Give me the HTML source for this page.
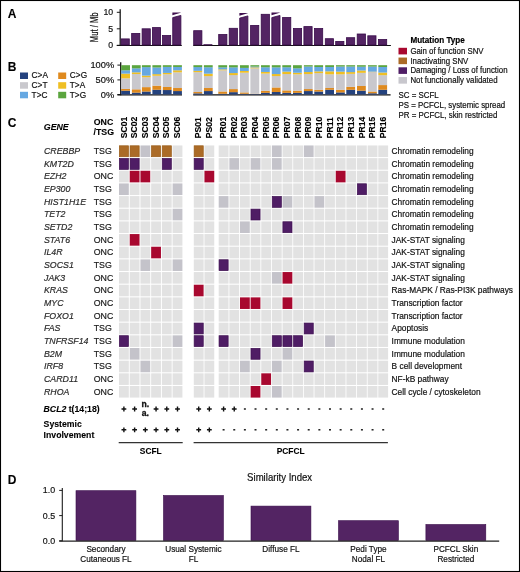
<!DOCTYPE html>
<html><head><meta charset="utf-8"><title>Figure</title>
<style>
html,body{margin:0;padding:0;background:#fff;}
body{width:520px;height:572px;overflow:hidden;}
svg{display:block;font-family:"Liberation Sans",sans-serif;will-change:transform;}
</style></head>
<body>
<svg width="520" height="572" viewBox="0 0 520 572">
<rect x="0" y="0" width="520" height="572" fill="#fff"/>
<text transform="translate(7.8,17.9) scale(1,1.05)" font-size="12" font-weight="bold" font-style="normal" text-anchor="start" fill="#000"  stroke="#000" stroke-width="0.1">A</text>
<text transform="translate(7.8,71.0) scale(1,1.05)" font-size="12" font-weight="bold" font-style="normal" text-anchor="start" fill="#000"  stroke="#000" stroke-width="0.1">B</text>
<text transform="translate(7.8,127.0) scale(1,1.05)" font-size="12" font-weight="bold" font-style="normal" text-anchor="start" fill="#000"  stroke="#000" stroke-width="0.1">C</text>
<text transform="translate(7.8,483.5) scale(1,1.05)" font-size="12" font-weight="bold" font-style="normal" text-anchor="start" fill="#000"  stroke="#000" stroke-width="0.1">D</text>
<line x1="120.2" y1="9.3" x2="120.2" y2="46.0" stroke="#1a1a1a" stroke-width="1.3"/>
<line x1="116.8" y1="12.3" x2="120.2" y2="12.3" stroke="#1a1a1a" stroke-width="1.0"/>
<text transform="translate(113.2,15.3) scale(1.04,1.05)" font-size="8.4" font-weight="normal" text-anchor="end" fill="#111" stroke="#111" stroke-width="0.18">10</text>
<line x1="116.8" y1="28.8" x2="120.2" y2="28.8" stroke="#1a1a1a" stroke-width="1.0"/>
<text transform="translate(113.2,31.8) scale(1.04,1.05)" font-size="8.4" font-weight="normal" text-anchor="end" fill="#111" stroke="#111" stroke-width="0.18">5</text>
<line x1="116.8" y1="45.3" x2="120.2" y2="45.3" stroke="#1a1a1a" stroke-width="1.0"/>
<text transform="translate(113.2,48.3) scale(1.04,1.05)" font-size="8.4" font-weight="normal" text-anchor="end" fill="#111" stroke="#111" stroke-width="0.18">0</text>
<text transform="translate(97.6,27.3) rotate(-90) scale(0.76,1)" font-size="10.1" text-anchor="middle" fill="#111" stroke="#111" stroke-width="0.25">Mut / Mb</text>
<line x1="116.8" y1="45.5" x2="181.8" y2="45.5" stroke="#111" stroke-width="1.2"/>
<line x1="193.2" y1="45.5" x2="390.9" y2="45.5" stroke="#111" stroke-width="1.2"/>
<rect x="121.10" y="38.90" width="8.20" height="6.10" fill="#532463" stroke="#380a49" stroke-width="0.8"/>
<rect x="131.65" y="33.40" width="8.20" height="11.60" fill="#532463" stroke="#380a49" stroke-width="0.8"/>
<rect x="142.10" y="28.80" width="8.20" height="16.20" fill="#532463" stroke="#380a49" stroke-width="0.8"/>
<rect x="152.40" y="27.60" width="8.20" height="17.40" fill="#532463" stroke="#380a49" stroke-width="0.8"/>
<rect x="162.50" y="35.50" width="8.20" height="9.50" fill="#532463" stroke="#380a49" stroke-width="0.8"/>
<path d="M172.70,45 L172.70,17.60 L180.90,15.40 L180.90,45 Z" fill="#532463" stroke="#380a49" stroke-width="0.8"/>
<path d="M172.40,12.40 L180.70,12.40 L180.70,12.70 L172.40,15.20 Z" fill="#40114f"/>
<rect x="193.70" y="30.70" width="8.20" height="14.30" fill="#532463" stroke="#380a49" stroke-width="0.8"/>
<rect x="203.80" y="44.70" width="8.20" height="0.30" fill="#532463" stroke="#380a49" stroke-width="0.8"/>
<rect x="218.70" y="34.50" width="8.20" height="10.50" fill="#532463" stroke="#380a49" stroke-width="0.8"/>
<rect x="229.20" y="28.30" width="8.20" height="16.70" fill="#532463" stroke="#380a49" stroke-width="0.8"/>
<path d="M239.70,45 L239.70,18.10 L247.90,15.90 L247.90,45 Z" fill="#532463" stroke="#380a49" stroke-width="0.8"/>
<path d="M239.40,12.90 L247.70,12.90 L247.70,13.20 L239.40,15.70 Z" fill="#40114f"/>
<rect x="250.60" y="25.40" width="8.20" height="19.60" fill="#532463" stroke="#380a49" stroke-width="0.8"/>
<rect x="261.20" y="14.30" width="8.20" height="30.70" fill="#532463" stroke="#380a49" stroke-width="0.8"/>
<path d="M271.80,45 L271.80,17.60 L280.00,15.40 L280.00,45 Z" fill="#532463" stroke="#380a49" stroke-width="0.8"/>
<path d="M271.50,12.40 L279.80,12.40 L279.80,12.70 L271.50,15.20 Z" fill="#40114f"/>
<rect x="282.60" y="17.50" width="8.20" height="27.50" fill="#532463" stroke="#380a49" stroke-width="0.8"/>
<rect x="293.40" y="28.50" width="8.20" height="16.50" fill="#532463" stroke="#380a49" stroke-width="0.8"/>
<rect x="303.90" y="26.60" width="8.20" height="18.40" fill="#532463" stroke="#380a49" stroke-width="0.8"/>
<rect x="314.50" y="28.50" width="8.20" height="16.50" fill="#532463" stroke="#380a49" stroke-width="0.8"/>
<rect x="325.30" y="38.70" width="8.20" height="6.30" fill="#532463" stroke="#380a49" stroke-width="0.8"/>
<rect x="335.70" y="41.40" width="8.20" height="3.60" fill="#532463" stroke="#380a49" stroke-width="0.8"/>
<rect x="346.50" y="37.70" width="8.20" height="7.30" fill="#532463" stroke="#380a49" stroke-width="0.8"/>
<rect x="357.20" y="34.00" width="8.20" height="11.00" fill="#532463" stroke="#380a49" stroke-width="0.8"/>
<rect x="367.80" y="35.80" width="8.20" height="9.20" fill="#532463" stroke="#380a49" stroke-width="0.8"/>
<rect x="378.50" y="39.50" width="8.20" height="5.50" fill="#532463" stroke="#380a49" stroke-width="0.8"/>
<rect x="20.00" y="72.50" width="8.00" height="6.50" fill="#24427e" />
<text transform="translate(31.6,78.45) scale(1,1.05)" font-size="8.3" font-weight="normal" font-style="normal" text-anchor="start" fill="#111"  stroke="#111" stroke-width="0.18">C&gt;A</text>
<rect x="20.00" y="82.20" width="8.00" height="6.50" fill="#c9c8cd" />
<text transform="translate(31.6,88.15) scale(1,1.05)" font-size="8.3" font-weight="normal" font-style="normal" text-anchor="start" fill="#111"  stroke="#111" stroke-width="0.18">C&gt;T</text>
<rect x="20.00" y="91.80" width="8.00" height="6.50" fill="#66a8e2" />
<text transform="translate(31.6,97.75) scale(1,1.05)" font-size="8.3" font-weight="normal" font-style="normal" text-anchor="start" fill="#111"  stroke="#111" stroke-width="0.18">T&gt;C</text>
<rect x="58.20" y="72.50" width="8.00" height="6.50" fill="#df8a1e" />
<text transform="translate(69.8,78.45) scale(1,1.05)" font-size="8.3" font-weight="normal" font-style="normal" text-anchor="start" fill="#111"  stroke="#111" stroke-width="0.18">C&gt;G</text>
<rect x="58.20" y="82.20" width="8.00" height="6.50" fill="#efbf24" />
<text transform="translate(69.8,88.15) scale(1,1.05)" font-size="8.3" font-weight="normal" font-style="normal" text-anchor="start" fill="#111"  stroke="#111" stroke-width="0.18">T&gt;A</text>
<rect x="58.20" y="91.80" width="8.00" height="6.50" fill="#5ba53e" />
<text transform="translate(69.8,97.75) scale(1,1.05)" font-size="8.3" font-weight="normal" font-style="normal" text-anchor="start" fill="#111"  stroke="#111" stroke-width="0.18">T&gt;G</text>
<line x1="120.7" y1="62.3" x2="120.7" y2="95.2" stroke="#1a1a1a" stroke-width="1.3"/>
<line x1="117.4" y1="65.1" x2="120.7" y2="65.1" stroke="#1a1a1a" stroke-width="1.0"/>
<text transform="translate(114.2,68.0) scale(1.12,1.05)" font-size="8.3" font-weight="normal" text-anchor="end" fill="#111" stroke="#111" stroke-width="0.18">100%</text>
<line x1="117.4" y1="79.9" x2="120.7" y2="79.9" stroke="#1a1a1a" stroke-width="1.0"/>
<text transform="translate(114.2,82.80000000000001) scale(1.12,1.05)" font-size="8.3" font-weight="normal" text-anchor="end" fill="#111" stroke="#111" stroke-width="0.18">50%</text>
<line x1="117.4" y1="94.6" x2="120.7" y2="94.6" stroke="#1a1a1a" stroke-width="1.0"/>
<text transform="translate(114.2,97.5) scale(1.12,1.05)" font-size="8.3" font-weight="normal" text-anchor="end" fill="#111" stroke="#111" stroke-width="0.18">0%</text>
<line x1="117.4" y1="94.9" x2="182.0" y2="94.9" stroke="#111" stroke-width="1.3"/>
<line x1="193.2" y1="94.9" x2="390.6" y2="94.9" stroke="#111" stroke-width="1.3"/>
<rect x="121.20" y="90.69" width="8.80" height="3.76" fill="#24427e" />
<rect x="121.20" y="88.88" width="8.80" height="1.86" fill="#df8a1e" />
<rect x="121.20" y="78.28" width="8.80" height="10.65" fill="#c9c8cd" />
<rect x="121.20" y="73.58" width="8.80" height="4.75" fill="#efbf24" />
<rect x="121.20" y="70.28" width="8.80" height="3.35" fill="#66a8e2" />
<rect x="121.20" y="65.20" width="8.80" height="5.13" fill="#5ba53e" />
<rect x="131.90" y="92.59" width="8.80" height="1.86" fill="#24427e" />
<rect x="131.90" y="89.29" width="8.80" height="3.35" fill="#df8a1e" />
<rect x="131.90" y="73.99" width="8.80" height="15.35" fill="#c9c8cd" />
<rect x="131.90" y="72.30" width="8.80" height="1.74" fill="#efbf24" />
<rect x="131.90" y="68.30" width="8.80" height="4.05" fill="#66a8e2" />
<rect x="131.90" y="65.20" width="8.80" height="3.15" fill="#5ba53e" />
<rect x="141.90" y="91.48" width="8.80" height="2.97" fill="#24427e" />
<rect x="141.90" y="87.10" width="8.80" height="4.43" fill="#df8a1e" />
<rect x="141.90" y="77.17" width="8.80" height="9.98" fill="#c9c8cd" />
<rect x="141.90" y="75.57" width="8.80" height="1.66" fill="#efbf24" />
<rect x="141.90" y="67.10" width="8.80" height="8.52" fill="#66a8e2" />
<rect x="141.90" y="65.20" width="8.80" height="1.95" fill="#5ba53e" />
<rect x="152.40" y="89.73" width="8.80" height="4.72" fill="#24427e" />
<rect x="152.40" y="85.64" width="8.80" height="4.14" fill="#df8a1e" />
<rect x="152.40" y="75.71" width="8.80" height="9.98" fill="#c9c8cd" />
<rect x="152.40" y="74.11" width="8.80" height="1.66" fill="#efbf24" />
<rect x="152.40" y="67.39" width="8.80" height="6.77" fill="#66a8e2" />
<rect x="152.40" y="65.20" width="8.80" height="2.24" fill="#5ba53e" />
<rect x="162.80" y="90.02" width="8.80" height="4.43" fill="#24427e" />
<rect x="162.80" y="86.95" width="8.80" height="3.12" fill="#df8a1e" />
<rect x="162.80" y="74.22" width="8.80" height="12.78" fill="#c9c8cd" />
<rect x="162.80" y="72.88" width="8.80" height="1.39" fill="#efbf24" />
<rect x="162.80" y="66.86" width="8.80" height="6.07" fill="#66a8e2" />
<rect x="162.80" y="65.20" width="8.80" height="1.71" fill="#5ba53e" />
<rect x="173.10" y="91.04" width="8.80" height="3.41" fill="#24427e" />
<rect x="173.10" y="87.98" width="8.80" height="3.12" fill="#df8a1e" />
<rect x="173.10" y="72.30" width="8.80" height="15.73" fill="#c9c8cd" />
<rect x="173.10" y="70.28" width="8.80" height="2.06" fill="#efbf24" />
<rect x="173.10" y="66.92" width="8.80" height="3.41" fill="#66a8e2" />
<rect x="173.10" y="65.20" width="8.80" height="1.77" fill="#5ba53e" />
<rect x="193.40" y="93.32" width="8.80" height="1.13" fill="#24427e" />
<rect x="193.40" y="91.98" width="8.80" height="1.39" fill="#df8a1e" />
<rect x="193.40" y="72.12" width="8.80" height="19.91" fill="#c9c8cd" />
<rect x="193.40" y="70.78" width="8.80" height="1.39" fill="#efbf24" />
<rect x="193.40" y="67.04" width="8.80" height="3.79" fill="#66a8e2" />
<rect x="193.40" y="65.20" width="8.80" height="1.89" fill="#5ba53e" />
<rect x="203.90" y="91.04" width="8.80" height="3.41" fill="#24427e" />
<rect x="203.90" y="87.98" width="8.80" height="3.12" fill="#df8a1e" />
<rect x="203.90" y="76.06" width="8.80" height="11.96" fill="#c9c8cd" />
<rect x="203.90" y="73.64" width="8.80" height="2.47" fill="#efbf24" />
<rect x="203.90" y="67.21" width="8.80" height="6.47" fill="#66a8e2" />
<rect x="203.90" y="65.20" width="8.80" height="2.06" fill="#5ba53e" />
<rect x="218.30" y="93.73" width="8.80" height="0.72" fill="#24427e" />
<rect x="218.30" y="91.45" width="8.80" height="2.33" fill="#df8a1e" />
<rect x="218.30" y="70.28" width="8.80" height="21.22" fill="#c9c8cd" />
<rect x="218.30" y="69.35" width="8.80" height="0.98" fill="#efbf24" />
<rect x="218.30" y="67.33" width="8.80" height="2.06" fill="#66a8e2" />
<rect x="218.30" y="65.20" width="8.80" height="2.18" fill="#5ba53e" />
<rect x="229.00" y="92.12" width="8.80" height="2.33" fill="#24427e" />
<rect x="229.00" y="89.06" width="8.80" height="3.12" fill="#df8a1e" />
<rect x="229.00" y="75.04" width="8.80" height="14.07" fill="#c9c8cd" />
<rect x="229.00" y="73.03" width="8.80" height="2.06" fill="#efbf24" />
<rect x="229.00" y="67.33" width="8.80" height="5.74" fill="#66a8e2" />
<rect x="229.00" y="65.20" width="8.80" height="2.18" fill="#5ba53e" />
<rect x="240.00" y="93.73" width="8.80" height="0.72" fill="#24427e" />
<rect x="240.00" y="92.39" width="8.80" height="1.39" fill="#df8a1e" />
<rect x="240.00" y="72.68" width="8.80" height="19.76" fill="#c9c8cd" />
<rect x="240.00" y="70.92" width="8.80" height="1.80" fill="#efbf24" />
<rect x="240.00" y="67.86" width="8.80" height="3.12" fill="#66a8e2" />
<rect x="240.00" y="65.20" width="8.80" height="2.71" fill="#5ba53e" />
<rect x="250.40" y="93.99" width="8.80" height="0.46" fill="#24427e" />
<rect x="250.40" y="93.70" width="8.80" height="0.34" fill="#df8a1e" />
<rect x="250.40" y="68.30" width="8.80" height="25.45" fill="#c9c8cd" />
<rect x="250.40" y="67.36" width="8.80" height="0.98" fill="#efbf24" />
<rect x="250.40" y="66.54" width="8.80" height="0.87" fill="#66a8e2" />
<rect x="250.40" y="65.20" width="8.80" height="1.39" fill="#5ba53e" />
<rect x="261.00" y="92.79" width="8.80" height="1.66" fill="#24427e" />
<rect x="261.00" y="90.75" width="8.80" height="2.09" fill="#df8a1e" />
<rect x="261.00" y="73.52" width="8.80" height="17.28" fill="#c9c8cd" />
<rect x="261.00" y="71.92" width="8.80" height="1.66" fill="#efbf24" />
<rect x="261.00" y="67.24" width="8.80" height="4.72" fill="#66a8e2" />
<rect x="261.00" y="65.20" width="8.80" height="2.09" fill="#5ba53e" />
<rect x="271.80" y="91.98" width="8.80" height="2.47" fill="#24427e" />
<rect x="271.80" y="87.42" width="8.80" height="4.61" fill="#df8a1e" />
<rect x="271.80" y="76.03" width="8.80" height="11.44" fill="#c9c8cd" />
<rect x="271.80" y="74.02" width="8.80" height="2.06" fill="#efbf24" />
<rect x="271.80" y="67.30" width="8.80" height="6.77" fill="#66a8e2" />
<rect x="271.80" y="65.20" width="8.80" height="2.15" fill="#5ba53e" />
<rect x="282.30" y="92.79" width="8.80" height="1.66" fill="#24427e" />
<rect x="282.30" y="90.37" width="8.80" height="2.47" fill="#df8a1e" />
<rect x="282.30" y="74.02" width="8.80" height="16.40" fill="#c9c8cd" />
<rect x="282.30" y="71.59" width="8.80" height="2.47" fill="#efbf24" />
<rect x="282.30" y="67.21" width="8.80" height="4.43" fill="#66a8e2" />
<rect x="282.30" y="65.20" width="8.80" height="2.06" fill="#5ba53e" />
<rect x="293.00" y="92.79" width="8.80" height="1.66" fill="#24427e" />
<rect x="293.00" y="90.66" width="8.80" height="2.18" fill="#df8a1e" />
<rect x="293.00" y="74.31" width="8.80" height="16.40" fill="#c9c8cd" />
<rect x="293.00" y="72.70" width="8.80" height="1.66" fill="#efbf24" />
<rect x="293.00" y="68.27" width="8.80" height="4.49" fill="#66a8e2" />
<rect x="293.00" y="65.20" width="8.80" height="3.12" fill="#5ba53e" />
<rect x="303.90" y="91.04" width="8.80" height="3.41" fill="#24427e" />
<rect x="303.90" y="89.03" width="8.80" height="2.06" fill="#df8a1e" />
<rect x="303.90" y="74.02" width="8.80" height="15.06" fill="#c9c8cd" />
<rect x="303.90" y="72.00" width="8.80" height="2.06" fill="#efbf24" />
<rect x="303.90" y="66.51" width="8.80" height="5.54" fill="#66a8e2" />
<rect x="303.90" y="65.20" width="8.80" height="1.36" fill="#5ba53e" />
<rect x="314.30" y="91.48" width="8.80" height="2.97" fill="#24427e" />
<rect x="314.30" y="89.73" width="8.80" height="1.80" fill="#df8a1e" />
<rect x="314.30" y="73.08" width="8.80" height="16.69" fill="#c9c8cd" />
<rect x="314.30" y="71.33" width="8.80" height="1.80" fill="#efbf24" />
<rect x="314.30" y="66.95" width="8.80" height="4.43" fill="#66a8e2" />
<rect x="314.30" y="65.20" width="8.80" height="1.80" fill="#5ba53e" />
<rect x="325.20" y="89.73" width="8.80" height="4.72" fill="#24427e" />
<rect x="325.20" y="87.98" width="8.80" height="1.80" fill="#df8a1e" />
<rect x="325.20" y="74.25" width="8.80" height="13.77" fill="#c9c8cd" />
<rect x="325.20" y="71.33" width="8.80" height="2.97" fill="#efbf24" />
<rect x="325.20" y="66.95" width="8.80" height="4.43" fill="#66a8e2" />
<rect x="325.20" y="65.20" width="8.80" height="1.80" fill="#5ba53e" />
<rect x="336.00" y="92.36" width="8.80" height="2.09" fill="#24427e" />
<rect x="336.00" y="89.73" width="8.80" height="2.68" fill="#df8a1e" />
<rect x="336.00" y="74.25" width="8.80" height="15.53" fill="#c9c8cd" />
<rect x="336.00" y="71.62" width="8.80" height="2.68" fill="#efbf24" />
<rect x="336.00" y="66.51" width="8.80" height="5.16" fill="#66a8e2" />
<rect x="336.00" y="65.20" width="8.80" height="1.36" fill="#5ba53e" />
<rect x="346.30" y="89.73" width="8.80" height="4.72" fill="#24427e" />
<rect x="346.30" y="86.81" width="8.80" height="2.97" fill="#df8a1e" />
<rect x="346.30" y="73.81" width="8.80" height="13.04" fill="#c9c8cd" />
<rect x="346.30" y="72.06" width="8.80" height="1.80" fill="#efbf24" />
<rect x="346.30" y="66.51" width="8.80" height="5.60" fill="#66a8e2" />
<rect x="346.30" y="65.20" width="8.80" height="1.36" fill="#5ba53e" />
<rect x="357.00" y="90.60" width="8.80" height="3.85" fill="#24427e" />
<rect x="357.00" y="85.93" width="8.80" height="4.72" fill="#df8a1e" />
<rect x="357.00" y="72.79" width="8.80" height="13.19" fill="#c9c8cd" />
<rect x="357.00" y="70.46" width="8.80" height="2.39" fill="#efbf24" />
<rect x="357.00" y="66.66" width="8.80" height="3.85" fill="#66a8e2" />
<rect x="357.00" y="65.20" width="8.80" height="1.51" fill="#5ba53e" />
<rect x="368.00" y="93.23" width="8.80" height="1.22" fill="#24427e" />
<rect x="368.00" y="91.48" width="8.80" height="1.80" fill="#df8a1e" />
<rect x="368.00" y="72.06" width="8.80" height="19.47" fill="#c9c8cd" />
<rect x="368.00" y="71.62" width="8.80" height="0.49" fill="#efbf24" />
<rect x="368.00" y="66.51" width="8.80" height="5.16" fill="#66a8e2" />
<rect x="368.00" y="65.20" width="8.80" height="1.36" fill="#5ba53e" />
<rect x="378.30" y="89.73" width="8.80" height="4.72" fill="#24427e" />
<rect x="378.30" y="85.06" width="8.80" height="4.72" fill="#df8a1e" />
<rect x="378.30" y="75.13" width="8.80" height="9.98" fill="#c9c8cd" />
<rect x="378.30" y="72.50" width="8.80" height="2.68" fill="#efbf24" />
<rect x="378.30" y="66.95" width="8.80" height="5.60" fill="#66a8e2" />
<rect x="378.30" y="65.20" width="8.80" height="1.80" fill="#5ba53e" />
<text transform="translate(410.4,42.6) scale(0.955,1.05)" font-size="8.5" font-weight="bold" text-anchor="start" fill="#000" stroke="#000" stroke-width="0.18">Mutation Type</text>
<rect x="398.50" y="47.80" width="8.50" height="6.60" fill="#a8082f" />
<text transform="translate(410.4,53.9) scale(1,1.05)" font-size="7.85" font-weight="normal" font-style="normal" text-anchor="start" fill="#111"  stroke="#111" stroke-width="0.18">Gain of function SNV</text>
<rect x="398.50" y="57.55" width="8.50" height="6.60" fill="#ab6b27" />
<text transform="translate(410.4,63.65) scale(1,1.05)" font-size="7.85" font-weight="normal" font-style="normal" text-anchor="start" fill="#111"  stroke="#111" stroke-width="0.18">Inactivating SNV</text>
<rect x="398.50" y="67.30" width="8.50" height="6.60" fill="#4f1d65" />
<text transform="translate(410.4,73.39999999999999) scale(1,1.05)" font-size="7.85" font-weight="normal" font-style="normal" text-anchor="start" fill="#111"  stroke="#111" stroke-width="0.18">Damaging / Loss of function</text>
<rect x="398.50" y="77.05" width="8.50" height="6.60" fill="#c8c7cd" />
<text transform="translate(410.4,83.14999999999999) scale(1,1.05)" font-size="7.85" font-weight="normal" font-style="normal" text-anchor="start" fill="#111"  stroke="#111" stroke-width="0.18">Not functionally validated</text>
<text transform="translate(398.6,98.2) scale(1,1.05)" font-size="7.9" font-weight="normal" font-style="normal" text-anchor="start" fill="#111"  stroke="#111" stroke-width="0.18">SC = SCFL</text>
<text transform="translate(398.6,107.85000000000001) scale(1,1.05)" font-size="7.9" font-weight="normal" font-style="normal" text-anchor="start" fill="#111"  stroke="#111" stroke-width="0.18">PS = PCFCL, systemic spread</text>
<text transform="translate(398.6,117.5) scale(1,1.05)" font-size="7.9" font-weight="normal" font-style="normal" text-anchor="start" fill="#111"  stroke="#111" stroke-width="0.18">PR = PCFCL, skin restricted</text>
<text transform="translate(43.8,130.0) scale(1,1.05)" font-size="8.8" font-weight="bold" font-style="italic" text-anchor="start" fill="#000"  stroke="#000" stroke-width="0.1">GENE</text>
<text transform="translate(93.7,125.0) scale(1,1.05)" font-size="8.8" font-weight="bold" font-style="normal" text-anchor="start" fill="#000"  stroke="#000" stroke-width="0.1">ONC</text>
<text transform="translate(93.5,135.0) scale(1,1.05)" font-size="8.8" font-weight="bold" font-style="normal" text-anchor="start" fill="#000"  stroke="#000" stroke-width="0.1">/TSG</text>
<text transform="translate(126.50,138.2) rotate(-90)" font-size="8.6" font-weight="bold" fill="#000" stroke="#000" stroke-width="0.12">SC01</text>
<text transform="translate(137.22,138.2) rotate(-90)" font-size="8.6" font-weight="bold" fill="#000" stroke="#000" stroke-width="0.12">SC02</text>
<text transform="translate(147.94,138.2) rotate(-90)" font-size="8.6" font-weight="bold" fill="#000" stroke="#000" stroke-width="0.12">SC03</text>
<text transform="translate(158.66,138.2) rotate(-90)" font-size="8.6" font-weight="bold" fill="#000" stroke="#000" stroke-width="0.12">SC04</text>
<text transform="translate(169.38,138.2) rotate(-90)" font-size="8.6" font-weight="bold" fill="#000" stroke="#000" stroke-width="0.12">SC05</text>
<text transform="translate(180.10,138.2) rotate(-90)" font-size="8.6" font-weight="bold" fill="#000" stroke="#000" stroke-width="0.12">SC06</text>
<text transform="translate(201.30,138.2) rotate(-90)" font-size="8.6" font-weight="bold" fill="#000" stroke="#000" stroke-width="0.12">PS01</text>
<text transform="translate(211.95,138.2) rotate(-90)" font-size="8.6" font-weight="bold" fill="#000" stroke="#000" stroke-width="0.12">PS02</text>
<text transform="translate(226.20,138.2) rotate(-90)" font-size="8.6" font-weight="bold" fill="#000" stroke="#000" stroke-width="0.12">PR01</text>
<text transform="translate(236.84,138.2) rotate(-90)" font-size="8.6" font-weight="bold" fill="#000" stroke="#000" stroke-width="0.12">PR02</text>
<text transform="translate(247.48,138.2) rotate(-90)" font-size="8.6" font-weight="bold" fill="#000" stroke="#000" stroke-width="0.12">PR03</text>
<text transform="translate(258.12,138.2) rotate(-90)" font-size="8.6" font-weight="bold" fill="#000" stroke="#000" stroke-width="0.12">PR04</text>
<text transform="translate(268.76,138.2) rotate(-90)" font-size="8.6" font-weight="bold" fill="#000" stroke="#000" stroke-width="0.12">PR05</text>
<text transform="translate(279.40,138.2) rotate(-90)" font-size="8.6" font-weight="bold" fill="#000" stroke="#000" stroke-width="0.12">PR06</text>
<text transform="translate(290.04,138.2) rotate(-90)" font-size="8.6" font-weight="bold" fill="#000" stroke="#000" stroke-width="0.12">PR07</text>
<text transform="translate(300.68,138.2) rotate(-90)" font-size="8.6" font-weight="bold" fill="#000" stroke="#000" stroke-width="0.12">PR08</text>
<text transform="translate(311.32,138.2) rotate(-90)" font-size="8.6" font-weight="bold" fill="#000" stroke="#000" stroke-width="0.12">PR09</text>
<text transform="translate(321.96,138.2) rotate(-90)" font-size="8.6" font-weight="bold" fill="#000" stroke="#000" stroke-width="0.12">PR10</text>
<text transform="translate(332.60,138.2) rotate(-90)" font-size="8.6" font-weight="bold" fill="#000" stroke="#000" stroke-width="0.12">PR11</text>
<text transform="translate(343.24,138.2) rotate(-90)" font-size="8.6" font-weight="bold" fill="#000" stroke="#000" stroke-width="0.12">PR12</text>
<text transform="translate(353.88,138.2) rotate(-90)" font-size="8.6" font-weight="bold" fill="#000" stroke="#000" stroke-width="0.12">PR13</text>
<text transform="translate(364.52,138.2) rotate(-90)" font-size="8.6" font-weight="bold" fill="#000" stroke="#000" stroke-width="0.12">PR14</text>
<text transform="translate(375.16,138.2) rotate(-90)" font-size="8.6" font-weight="bold" fill="#000" stroke="#000" stroke-width="0.12">PR15</text>
<text transform="translate(385.80,138.2) rotate(-90)" font-size="8.6" font-weight="bold" fill="#000" stroke="#000" stroke-width="0.12">PR16</text>
<text transform="translate(44.0,154.10) scale(1,1.05)" font-size="8.8" font-weight="normal" font-style="italic" text-anchor="start" fill="#2a2a2a"  stroke="#2a2a2a" stroke-width="0.18">CREBBP</text>
<text transform="translate(93.7,154.10) scale(1,1.05)" font-size="8.8" font-weight="normal" font-style="normal" text-anchor="start" fill="#1a1a1a"  stroke="#1a1a1a" stroke-width="0.18">TSG</text>
<text transform="translate(391.6,154.10) scale(1,1.05)" font-size="8.35" font-weight="normal" font-style="normal" text-anchor="start" fill="#111"  stroke="#111" stroke-width="0.18">Chromatin remodeling</text>
<rect x="119.35" y="145.80" width="9.10" height="10.90" fill="#ab6b27" stroke="#985a14" stroke-width="0.7"/>
<rect x="130.07" y="145.80" width="9.10" height="10.90" fill="#ab6b27" stroke="#985a14" stroke-width="0.7"/>
<rect x="140.44" y="145.45" width="9.80" height="11.60" fill="#c4c3ca" />
<rect x="151.51" y="145.80" width="9.10" height="10.90" fill="#ab6b27" stroke="#985a14" stroke-width="0.7"/>
<rect x="162.23" y="145.80" width="9.10" height="10.90" fill="#ab6b27" stroke="#985a14" stroke-width="0.7"/>
<rect x="172.60" y="145.45" width="9.80" height="11.60" fill="#e2e2e2" />
<rect x="194.15" y="145.80" width="9.10" height="10.90" fill="#ab6b27" stroke="#985a14" stroke-width="0.7"/>
<rect x="204.45" y="145.45" width="9.80" height="11.60" fill="#e2e2e2" />
<rect x="218.70" y="145.45" width="9.80" height="11.60" fill="#e2e2e2" />
<rect x="229.34" y="145.45" width="9.80" height="11.60" fill="#e2e2e2" />
<rect x="239.98" y="145.45" width="9.80" height="11.60" fill="#e2e2e2" />
<rect x="250.62" y="145.45" width="9.80" height="11.60" fill="#e2e2e2" />
<rect x="261.26" y="145.45" width="9.80" height="11.60" fill="#e2e2e2" />
<rect x="271.90" y="145.45" width="9.80" height="11.60" fill="#c4c3ca" />
<rect x="282.54" y="145.45" width="9.80" height="11.60" fill="#e2e2e2" />
<rect x="293.18" y="145.45" width="9.80" height="11.60" fill="#e2e2e2" />
<rect x="303.82" y="145.45" width="9.80" height="11.60" fill="#c4c3ca" />
<rect x="314.46" y="145.45" width="9.80" height="11.60" fill="#e2e2e2" />
<rect x="325.10" y="145.45" width="9.80" height="11.60" fill="#e2e2e2" />
<rect x="335.74" y="145.45" width="9.80" height="11.60" fill="#e2e2e2" />
<rect x="346.38" y="145.45" width="9.80" height="11.60" fill="#e2e2e2" />
<rect x="357.02" y="145.45" width="9.80" height="11.60" fill="#e2e2e2" />
<rect x="367.66" y="145.45" width="9.80" height="11.60" fill="#e2e2e2" />
<rect x="378.30" y="145.45" width="9.80" height="11.60" fill="#e2e2e2" />
<text transform="translate(44.0,166.76) scale(1,1.05)" font-size="8.8" font-weight="normal" font-style="italic" text-anchor="start" fill="#2a2a2a"  stroke="#2a2a2a" stroke-width="0.18">KMT2D</text>
<text transform="translate(93.7,166.76) scale(1,1.05)" font-size="8.8" font-weight="normal" font-style="normal" text-anchor="start" fill="#1a1a1a"  stroke="#1a1a1a" stroke-width="0.18">TSG</text>
<text transform="translate(391.6,166.76) scale(1,1.05)" font-size="8.35" font-weight="normal" font-style="normal" text-anchor="start" fill="#111"  stroke="#111" stroke-width="0.18">Chromatin remodeling</text>
<rect x="119.35" y="158.46" width="9.10" height="10.90" fill="#4f1d65" stroke="#3e1050" stroke-width="0.7"/>
<rect x="130.07" y="158.46" width="9.10" height="10.90" fill="#4f1d65" stroke="#3e1050" stroke-width="0.7"/>
<rect x="140.44" y="158.11" width="9.80" height="11.60" fill="#e2e2e2" />
<rect x="151.16" y="158.11" width="9.80" height="11.60" fill="#e2e2e2" />
<rect x="162.23" y="158.46" width="9.10" height="10.90" fill="#4f1d65" stroke="#3e1050" stroke-width="0.7"/>
<rect x="172.60" y="158.11" width="9.80" height="11.60" fill="#e2e2e2" />
<rect x="194.15" y="158.46" width="9.10" height="10.90" fill="#4f1d65" stroke="#3e1050" stroke-width="0.7"/>
<rect x="204.45" y="158.11" width="9.80" height="11.60" fill="#e2e2e2" />
<rect x="218.70" y="158.11" width="9.80" height="11.60" fill="#e2e2e2" />
<rect x="229.34" y="158.11" width="9.80" height="11.60" fill="#c4c3ca" />
<rect x="239.98" y="158.11" width="9.80" height="11.60" fill="#e2e2e2" />
<rect x="250.62" y="158.11" width="9.80" height="11.60" fill="#c4c3ca" />
<rect x="261.26" y="158.11" width="9.80" height="11.60" fill="#e2e2e2" />
<rect x="271.90" y="158.11" width="9.80" height="11.60" fill="#c4c3ca" />
<rect x="282.54" y="158.11" width="9.80" height="11.60" fill="#e2e2e2" />
<rect x="293.18" y="158.11" width="9.80" height="11.60" fill="#e2e2e2" />
<rect x="303.82" y="158.11" width="9.80" height="11.60" fill="#e2e2e2" />
<rect x="314.46" y="158.11" width="9.80" height="11.60" fill="#e2e2e2" />
<rect x="325.10" y="158.11" width="9.80" height="11.60" fill="#e2e2e2" />
<rect x="335.74" y="158.11" width="9.80" height="11.60" fill="#e2e2e2" />
<rect x="346.38" y="158.11" width="9.80" height="11.60" fill="#e2e2e2" />
<rect x="357.02" y="158.11" width="9.80" height="11.60" fill="#e2e2e2" />
<rect x="367.66" y="158.11" width="9.80" height="11.60" fill="#e2e2e2" />
<rect x="378.30" y="158.11" width="9.80" height="11.60" fill="#e2e2e2" />
<text transform="translate(44.0,179.42) scale(1,1.05)" font-size="8.8" font-weight="normal" font-style="italic" text-anchor="start" fill="#2a2a2a"  stroke="#2a2a2a" stroke-width="0.18">EZH2</text>
<text transform="translate(93.7,179.42) scale(1,1.05)" font-size="8.8" font-weight="normal" font-style="normal" text-anchor="start" fill="#1a1a1a"  stroke="#1a1a1a" stroke-width="0.18">ONC</text>
<text transform="translate(391.6,179.42) scale(1,1.05)" font-size="8.35" font-weight="normal" font-style="normal" text-anchor="start" fill="#111"  stroke="#111" stroke-width="0.18">Chromatin remodeling</text>
<rect x="119.00" y="170.77" width="9.80" height="11.60" fill="#e2e2e2" />
<rect x="129.72" y="170.77" width="9.80" height="11.60" fill="#a8082f" />
<rect x="140.44" y="170.77" width="9.80" height="11.60" fill="#a8082f" />
<rect x="151.16" y="170.77" width="9.80" height="11.60" fill="#e2e2e2" />
<rect x="161.88" y="170.77" width="9.80" height="11.60" fill="#e2e2e2" />
<rect x="172.60" y="170.77" width="9.80" height="11.60" fill="#e2e2e2" />
<rect x="193.80" y="170.77" width="9.80" height="11.60" fill="#e2e2e2" />
<rect x="204.45" y="170.77" width="9.80" height="11.60" fill="#a8082f" />
<rect x="218.70" y="170.77" width="9.80" height="11.60" fill="#e2e2e2" />
<rect x="229.34" y="170.77" width="9.80" height="11.60" fill="#e2e2e2" />
<rect x="239.98" y="170.77" width="9.80" height="11.60" fill="#e2e2e2" />
<rect x="250.62" y="170.77" width="9.80" height="11.60" fill="#e2e2e2" />
<rect x="261.26" y="170.77" width="9.80" height="11.60" fill="#e2e2e2" />
<rect x="271.90" y="170.77" width="9.80" height="11.60" fill="#e2e2e2" />
<rect x="282.54" y="170.77" width="9.80" height="11.60" fill="#e2e2e2" />
<rect x="293.18" y="170.77" width="9.80" height="11.60" fill="#e2e2e2" />
<rect x="303.82" y="170.77" width="9.80" height="11.60" fill="#e2e2e2" />
<rect x="314.46" y="170.77" width="9.80" height="11.60" fill="#e2e2e2" />
<rect x="325.10" y="170.77" width="9.80" height="11.60" fill="#e2e2e2" />
<rect x="335.74" y="170.77" width="9.80" height="11.60" fill="#a8082f" />
<rect x="346.38" y="170.77" width="9.80" height="11.60" fill="#e2e2e2" />
<rect x="357.02" y="170.77" width="9.80" height="11.60" fill="#e2e2e2" />
<rect x="367.66" y="170.77" width="9.80" height="11.60" fill="#e2e2e2" />
<rect x="378.30" y="170.77" width="9.80" height="11.60" fill="#e2e2e2" />
<text transform="translate(44.0,192.08) scale(1,1.05)" font-size="8.8" font-weight="normal" font-style="italic" text-anchor="start" fill="#2a2a2a"  stroke="#2a2a2a" stroke-width="0.18">EP300</text>
<text transform="translate(93.7,192.08) scale(1,1.05)" font-size="8.8" font-weight="normal" font-style="normal" text-anchor="start" fill="#1a1a1a"  stroke="#1a1a1a" stroke-width="0.18">TSG</text>
<text transform="translate(391.6,192.08) scale(1,1.05)" font-size="8.35" font-weight="normal" font-style="normal" text-anchor="start" fill="#111"  stroke="#111" stroke-width="0.18">Chromatin remodeling</text>
<rect x="119.00" y="183.43" width="9.80" height="11.60" fill="#c4c3ca" />
<rect x="129.72" y="183.43" width="9.80" height="11.60" fill="#e2e2e2" />
<rect x="140.44" y="183.43" width="9.80" height="11.60" fill="#e2e2e2" />
<rect x="151.16" y="183.43" width="9.80" height="11.60" fill="#e2e2e2" />
<rect x="161.88" y="183.43" width="9.80" height="11.60" fill="#e2e2e2" />
<rect x="172.60" y="183.43" width="9.80" height="11.60" fill="#c4c3ca" />
<rect x="193.80" y="183.43" width="9.80" height="11.60" fill="#e2e2e2" />
<rect x="204.45" y="183.43" width="9.80" height="11.60" fill="#e2e2e2" />
<rect x="218.70" y="183.43" width="9.80" height="11.60" fill="#e2e2e2" />
<rect x="229.34" y="183.43" width="9.80" height="11.60" fill="#e2e2e2" />
<rect x="239.98" y="183.43" width="9.80" height="11.60" fill="#e2e2e2" />
<rect x="250.62" y="183.43" width="9.80" height="11.60" fill="#e2e2e2" />
<rect x="261.26" y="183.43" width="9.80" height="11.60" fill="#e2e2e2" />
<rect x="271.90" y="183.43" width="9.80" height="11.60" fill="#e2e2e2" />
<rect x="282.54" y="183.43" width="9.80" height="11.60" fill="#e2e2e2" />
<rect x="293.18" y="183.43" width="9.80" height="11.60" fill="#e2e2e2" />
<rect x="303.82" y="183.43" width="9.80" height="11.60" fill="#e2e2e2" />
<rect x="314.46" y="183.43" width="9.80" height="11.60" fill="#e2e2e2" />
<rect x="325.10" y="183.43" width="9.80" height="11.60" fill="#e2e2e2" />
<rect x="335.74" y="183.43" width="9.80" height="11.60" fill="#e2e2e2" />
<rect x="346.38" y="183.43" width="9.80" height="11.60" fill="#e2e2e2" />
<rect x="357.37" y="183.78" width="9.10" height="10.90" fill="#4f1d65" stroke="#3e1050" stroke-width="0.7"/>
<rect x="367.66" y="183.43" width="9.80" height="11.60" fill="#e2e2e2" />
<rect x="378.30" y="183.43" width="9.80" height="11.60" fill="#e2e2e2" />
<text transform="translate(44.0,204.74) scale(1,1.05)" font-size="8.8" font-weight="normal" font-style="italic" text-anchor="start" fill="#2a2a2a"  stroke="#2a2a2a" stroke-width="0.18">HIST1H1E</text>
<text transform="translate(93.7,204.74) scale(1,1.05)" font-size="8.8" font-weight="normal" font-style="normal" text-anchor="start" fill="#1a1a1a"  stroke="#1a1a1a" stroke-width="0.18">TSG</text>
<text transform="translate(391.6,204.74) scale(1,1.05)" font-size="8.35" font-weight="normal" font-style="normal" text-anchor="start" fill="#111"  stroke="#111" stroke-width="0.18">Chromatin remodeling</text>
<rect x="119.00" y="196.09" width="9.80" height="11.60" fill="#e2e2e2" />
<rect x="129.72" y="196.09" width="9.80" height="11.60" fill="#e2e2e2" />
<rect x="140.44" y="196.09" width="9.80" height="11.60" fill="#e2e2e2" />
<rect x="151.16" y="196.09" width="9.80" height="11.60" fill="#e2e2e2" />
<rect x="161.88" y="196.09" width="9.80" height="11.60" fill="#e2e2e2" />
<rect x="172.60" y="196.09" width="9.80" height="11.60" fill="#e2e2e2" />
<rect x="193.80" y="196.09" width="9.80" height="11.60" fill="#e2e2e2" />
<rect x="204.45" y="196.09" width="9.80" height="11.60" fill="#e2e2e2" />
<rect x="218.70" y="196.09" width="9.80" height="11.60" fill="#c4c3ca" />
<rect x="229.34" y="196.09" width="9.80" height="11.60" fill="#e2e2e2" />
<rect x="239.98" y="196.09" width="9.80" height="11.60" fill="#e2e2e2" />
<rect x="250.62" y="196.09" width="9.80" height="11.60" fill="#e2e2e2" />
<rect x="261.26" y="196.09" width="9.80" height="11.60" fill="#e2e2e2" />
<rect x="272.25" y="196.44" width="9.10" height="10.90" fill="#4f1d65" stroke="#3e1050" stroke-width="0.7"/>
<rect x="282.54" y="196.09" width="9.80" height="11.60" fill="#c4c3ca" />
<rect x="293.18" y="196.09" width="9.80" height="11.60" fill="#e2e2e2" />
<rect x="303.82" y="196.09" width="9.80" height="11.60" fill="#e2e2e2" />
<rect x="314.46" y="196.09" width="9.80" height="11.60" fill="#c4c3ca" />
<rect x="325.10" y="196.09" width="9.80" height="11.60" fill="#e2e2e2" />
<rect x="335.74" y="196.09" width="9.80" height="11.60" fill="#e2e2e2" />
<rect x="346.38" y="196.09" width="9.80" height="11.60" fill="#e2e2e2" />
<rect x="357.02" y="196.09" width="9.80" height="11.60" fill="#e2e2e2" />
<rect x="367.66" y="196.09" width="9.80" height="11.60" fill="#e2e2e2" />
<rect x="378.30" y="196.09" width="9.80" height="11.60" fill="#e2e2e2" />
<text transform="translate(44.0,217.40) scale(1,1.05)" font-size="8.8" font-weight="normal" font-style="italic" text-anchor="start" fill="#2a2a2a"  stroke="#2a2a2a" stroke-width="0.18">TET2</text>
<text transform="translate(93.7,217.40) scale(1,1.05)" font-size="8.8" font-weight="normal" font-style="normal" text-anchor="start" fill="#1a1a1a"  stroke="#1a1a1a" stroke-width="0.18">TSG</text>
<text transform="translate(391.6,217.40) scale(1,1.05)" font-size="8.35" font-weight="normal" font-style="normal" text-anchor="start" fill="#111"  stroke="#111" stroke-width="0.18">Chromatin remodeling</text>
<rect x="119.00" y="208.75" width="9.80" height="11.60" fill="#e2e2e2" />
<rect x="129.72" y="208.75" width="9.80" height="11.60" fill="#e2e2e2" />
<rect x="140.44" y="208.75" width="9.80" height="11.60" fill="#e2e2e2" />
<rect x="151.16" y="208.75" width="9.80" height="11.60" fill="#e2e2e2" />
<rect x="161.88" y="208.75" width="9.80" height="11.60" fill="#e2e2e2" />
<rect x="172.60" y="208.75" width="9.80" height="11.60" fill="#c4c3ca" />
<rect x="193.80" y="208.75" width="9.80" height="11.60" fill="#e2e2e2" />
<rect x="204.45" y="208.75" width="9.80" height="11.60" fill="#e2e2e2" />
<rect x="218.70" y="208.75" width="9.80" height="11.60" fill="#e2e2e2" />
<rect x="229.34" y="208.75" width="9.80" height="11.60" fill="#e2e2e2" />
<rect x="239.98" y="208.75" width="9.80" height="11.60" fill="#e2e2e2" />
<rect x="250.97" y="209.10" width="9.10" height="10.90" fill="#4f1d65" stroke="#3e1050" stroke-width="0.7"/>
<rect x="261.26" y="208.75" width="9.80" height="11.60" fill="#e2e2e2" />
<rect x="271.90" y="208.75" width="9.80" height="11.60" fill="#e2e2e2" />
<rect x="282.54" y="208.75" width="9.80" height="11.60" fill="#e2e2e2" />
<rect x="293.18" y="208.75" width="9.80" height="11.60" fill="#e2e2e2" />
<rect x="303.82" y="208.75" width="9.80" height="11.60" fill="#e2e2e2" />
<rect x="314.46" y="208.75" width="9.80" height="11.60" fill="#e2e2e2" />
<rect x="325.10" y="208.75" width="9.80" height="11.60" fill="#e2e2e2" />
<rect x="335.74" y="208.75" width="9.80" height="11.60" fill="#e2e2e2" />
<rect x="346.38" y="208.75" width="9.80" height="11.60" fill="#e2e2e2" />
<rect x="357.02" y="208.75" width="9.80" height="11.60" fill="#e2e2e2" />
<rect x="367.66" y="208.75" width="9.80" height="11.60" fill="#e2e2e2" />
<rect x="378.30" y="208.75" width="9.80" height="11.60" fill="#e2e2e2" />
<text transform="translate(44.0,230.06) scale(1,1.05)" font-size="8.8" font-weight="normal" font-style="italic" text-anchor="start" fill="#2a2a2a"  stroke="#2a2a2a" stroke-width="0.18">SETD2</text>
<text transform="translate(93.7,230.06) scale(1,1.05)" font-size="8.8" font-weight="normal" font-style="normal" text-anchor="start" fill="#1a1a1a"  stroke="#1a1a1a" stroke-width="0.18">TSG</text>
<text transform="translate(391.6,230.06) scale(1,1.05)" font-size="8.35" font-weight="normal" font-style="normal" text-anchor="start" fill="#111"  stroke="#111" stroke-width="0.18">Chromatin remodeling</text>
<rect x="119.00" y="221.41" width="9.80" height="11.60" fill="#e2e2e2" />
<rect x="129.72" y="221.41" width="9.80" height="11.60" fill="#e2e2e2" />
<rect x="140.44" y="221.41" width="9.80" height="11.60" fill="#e2e2e2" />
<rect x="151.16" y="221.41" width="9.80" height="11.60" fill="#e2e2e2" />
<rect x="161.88" y="221.41" width="9.80" height="11.60" fill="#e2e2e2" />
<rect x="172.60" y="221.41" width="9.80" height="11.60" fill="#e2e2e2" />
<rect x="193.80" y="221.41" width="9.80" height="11.60" fill="#e2e2e2" />
<rect x="204.45" y="221.41" width="9.80" height="11.60" fill="#e2e2e2" />
<rect x="218.70" y="221.41" width="9.80" height="11.60" fill="#e2e2e2" />
<rect x="229.34" y="221.41" width="9.80" height="11.60" fill="#e2e2e2" />
<rect x="239.98" y="221.41" width="9.80" height="11.60" fill="#c4c3ca" />
<rect x="250.62" y="221.41" width="9.80" height="11.60" fill="#e2e2e2" />
<rect x="261.26" y="221.41" width="9.80" height="11.60" fill="#e2e2e2" />
<rect x="271.90" y="221.41" width="9.80" height="11.60" fill="#e2e2e2" />
<rect x="282.89" y="221.76" width="9.10" height="10.90" fill="#4f1d65" stroke="#3e1050" stroke-width="0.7"/>
<rect x="293.18" y="221.41" width="9.80" height="11.60" fill="#e2e2e2" />
<rect x="303.82" y="221.41" width="9.80" height="11.60" fill="#e2e2e2" />
<rect x="314.46" y="221.41" width="9.80" height="11.60" fill="#e2e2e2" />
<rect x="325.10" y="221.41" width="9.80" height="11.60" fill="#e2e2e2" />
<rect x="335.74" y="221.41" width="9.80" height="11.60" fill="#e2e2e2" />
<rect x="346.38" y="221.41" width="9.80" height="11.60" fill="#e2e2e2" />
<rect x="357.02" y="221.41" width="9.80" height="11.60" fill="#e2e2e2" />
<rect x="367.66" y="221.41" width="9.80" height="11.60" fill="#e2e2e2" />
<rect x="378.30" y="221.41" width="9.80" height="11.60" fill="#e2e2e2" />
<text transform="translate(44.0,242.72) scale(1,1.05)" font-size="8.8" font-weight="normal" font-style="italic" text-anchor="start" fill="#2a2a2a"  stroke="#2a2a2a" stroke-width="0.18">STAT6</text>
<text transform="translate(93.7,242.72) scale(1,1.05)" font-size="8.8" font-weight="normal" font-style="normal" text-anchor="start" fill="#1a1a1a"  stroke="#1a1a1a" stroke-width="0.18">ONC</text>
<text transform="translate(391.6,242.72) scale(1,1.05)" font-size="8.35" font-weight="normal" font-style="normal" text-anchor="start" fill="#111"  stroke="#111" stroke-width="0.18">JAK-STAT signaling</text>
<rect x="119.00" y="234.07" width="9.80" height="11.60" fill="#e2e2e2" />
<rect x="129.72" y="234.07" width="9.80" height="11.60" fill="#a8082f" />
<rect x="140.44" y="234.07" width="9.80" height="11.60" fill="#e2e2e2" />
<rect x="151.16" y="234.07" width="9.80" height="11.60" fill="#e2e2e2" />
<rect x="161.88" y="234.07" width="9.80" height="11.60" fill="#e2e2e2" />
<rect x="172.60" y="234.07" width="9.80" height="11.60" fill="#e2e2e2" />
<rect x="193.80" y="234.07" width="9.80" height="11.60" fill="#e2e2e2" />
<rect x="204.45" y="234.07" width="9.80" height="11.60" fill="#e2e2e2" />
<rect x="218.70" y="234.07" width="9.80" height="11.60" fill="#e2e2e2" />
<rect x="229.34" y="234.07" width="9.80" height="11.60" fill="#e2e2e2" />
<rect x="239.98" y="234.07" width="9.80" height="11.60" fill="#e2e2e2" />
<rect x="250.62" y="234.07" width="9.80" height="11.60" fill="#e2e2e2" />
<rect x="261.26" y="234.07" width="9.80" height="11.60" fill="#e2e2e2" />
<rect x="271.90" y="234.07" width="9.80" height="11.60" fill="#e2e2e2" />
<rect x="282.54" y="234.07" width="9.80" height="11.60" fill="#e2e2e2" />
<rect x="293.18" y="234.07" width="9.80" height="11.60" fill="#e2e2e2" />
<rect x="303.82" y="234.07" width="9.80" height="11.60" fill="#e2e2e2" />
<rect x="314.46" y="234.07" width="9.80" height="11.60" fill="#e2e2e2" />
<rect x="325.10" y="234.07" width="9.80" height="11.60" fill="#e2e2e2" />
<rect x="335.74" y="234.07" width="9.80" height="11.60" fill="#e2e2e2" />
<rect x="346.38" y="234.07" width="9.80" height="11.60" fill="#e2e2e2" />
<rect x="357.02" y="234.07" width="9.80" height="11.60" fill="#e2e2e2" />
<rect x="367.66" y="234.07" width="9.80" height="11.60" fill="#e2e2e2" />
<rect x="378.30" y="234.07" width="9.80" height="11.60" fill="#e2e2e2" />
<text transform="translate(44.0,255.38) scale(1,1.05)" font-size="8.8" font-weight="normal" font-style="italic" text-anchor="start" fill="#2a2a2a"  stroke="#2a2a2a" stroke-width="0.18">IL4R</text>
<text transform="translate(93.7,255.38) scale(1,1.05)" font-size="8.8" font-weight="normal" font-style="normal" text-anchor="start" fill="#1a1a1a"  stroke="#1a1a1a" stroke-width="0.18">ONC</text>
<text transform="translate(391.6,255.38) scale(1,1.05)" font-size="8.35" font-weight="normal" font-style="normal" text-anchor="start" fill="#111"  stroke="#111" stroke-width="0.18">JAK-STAT signaling</text>
<rect x="119.00" y="246.73" width="9.80" height="11.60" fill="#e2e2e2" />
<rect x="129.72" y="246.73" width="9.80" height="11.60" fill="#e2e2e2" />
<rect x="140.44" y="246.73" width="9.80" height="11.60" fill="#e2e2e2" />
<rect x="151.16" y="246.73" width="9.80" height="11.60" fill="#a8082f" />
<rect x="161.88" y="246.73" width="9.80" height="11.60" fill="#e2e2e2" />
<rect x="172.60" y="246.73" width="9.80" height="11.60" fill="#e2e2e2" />
<rect x="193.80" y="246.73" width="9.80" height="11.60" fill="#e2e2e2" />
<rect x="204.45" y="246.73" width="9.80" height="11.60" fill="#e2e2e2" />
<rect x="218.70" y="246.73" width="9.80" height="11.60" fill="#e2e2e2" />
<rect x="229.34" y="246.73" width="9.80" height="11.60" fill="#e2e2e2" />
<rect x="239.98" y="246.73" width="9.80" height="11.60" fill="#e2e2e2" />
<rect x="250.62" y="246.73" width="9.80" height="11.60" fill="#e2e2e2" />
<rect x="261.26" y="246.73" width="9.80" height="11.60" fill="#e2e2e2" />
<rect x="271.90" y="246.73" width="9.80" height="11.60" fill="#e2e2e2" />
<rect x="282.54" y="246.73" width="9.80" height="11.60" fill="#e2e2e2" />
<rect x="293.18" y="246.73" width="9.80" height="11.60" fill="#e2e2e2" />
<rect x="303.82" y="246.73" width="9.80" height="11.60" fill="#e2e2e2" />
<rect x="314.46" y="246.73" width="9.80" height="11.60" fill="#e2e2e2" />
<rect x="325.10" y="246.73" width="9.80" height="11.60" fill="#e2e2e2" />
<rect x="335.74" y="246.73" width="9.80" height="11.60" fill="#e2e2e2" />
<rect x="346.38" y="246.73" width="9.80" height="11.60" fill="#e2e2e2" />
<rect x="357.02" y="246.73" width="9.80" height="11.60" fill="#e2e2e2" />
<rect x="367.66" y="246.73" width="9.80" height="11.60" fill="#e2e2e2" />
<rect x="378.30" y="246.73" width="9.80" height="11.60" fill="#e2e2e2" />
<text transform="translate(44.0,268.04) scale(1,1.05)" font-size="8.8" font-weight="normal" font-style="italic" text-anchor="start" fill="#2a2a2a"  stroke="#2a2a2a" stroke-width="0.18">SOCS1</text>
<text transform="translate(93.7,268.04) scale(1,1.05)" font-size="8.8" font-weight="normal" font-style="normal" text-anchor="start" fill="#1a1a1a"  stroke="#1a1a1a" stroke-width="0.18">TSG</text>
<text transform="translate(391.6,268.04) scale(1,1.05)" font-size="8.35" font-weight="normal" font-style="normal" text-anchor="start" fill="#111"  stroke="#111" stroke-width="0.18">JAK-STAT signaling</text>
<rect x="119.00" y="259.39" width="9.80" height="11.60" fill="#e2e2e2" />
<rect x="129.72" y="259.39" width="9.80" height="11.60" fill="#e2e2e2" />
<rect x="140.44" y="259.39" width="9.80" height="11.60" fill="#c4c3ca" />
<rect x="151.16" y="259.39" width="9.80" height="11.60" fill="#e2e2e2" />
<rect x="161.88" y="259.39" width="9.80" height="11.60" fill="#e2e2e2" />
<rect x="172.60" y="259.39" width="9.80" height="11.60" fill="#c4c3ca" />
<rect x="193.80" y="259.39" width="9.80" height="11.60" fill="#e2e2e2" />
<rect x="204.45" y="259.39" width="9.80" height="11.60" fill="#e2e2e2" />
<rect x="219.05" y="259.74" width="9.10" height="10.90" fill="#4f1d65" stroke="#3e1050" stroke-width="0.7"/>
<rect x="229.34" y="259.39" width="9.80" height="11.60" fill="#e2e2e2" />
<rect x="239.98" y="259.39" width="9.80" height="11.60" fill="#e2e2e2" />
<rect x="250.62" y="259.39" width="9.80" height="11.60" fill="#e2e2e2" />
<rect x="261.26" y="259.39" width="9.80" height="11.60" fill="#e2e2e2" />
<rect x="271.90" y="259.39" width="9.80" height="11.60" fill="#e2e2e2" />
<rect x="282.54" y="259.39" width="9.80" height="11.60" fill="#e2e2e2" />
<rect x="293.18" y="259.39" width="9.80" height="11.60" fill="#e2e2e2" />
<rect x="303.82" y="259.39" width="9.80" height="11.60" fill="#e2e2e2" />
<rect x="314.46" y="259.39" width="9.80" height="11.60" fill="#e2e2e2" />
<rect x="325.10" y="259.39" width="9.80" height="11.60" fill="#e2e2e2" />
<rect x="335.74" y="259.39" width="9.80" height="11.60" fill="#e2e2e2" />
<rect x="346.38" y="259.39" width="9.80" height="11.60" fill="#e2e2e2" />
<rect x="357.02" y="259.39" width="9.80" height="11.60" fill="#e2e2e2" />
<rect x="367.66" y="259.39" width="9.80" height="11.60" fill="#e2e2e2" />
<rect x="378.30" y="259.39" width="9.80" height="11.60" fill="#e2e2e2" />
<text transform="translate(44.0,280.70) scale(1,1.05)" font-size="8.8" font-weight="normal" font-style="italic" text-anchor="start" fill="#2a2a2a"  stroke="#2a2a2a" stroke-width="0.18">JAK3</text>
<text transform="translate(93.7,280.70) scale(1,1.05)" font-size="8.8" font-weight="normal" font-style="normal" text-anchor="start" fill="#1a1a1a"  stroke="#1a1a1a" stroke-width="0.18">ONC</text>
<text transform="translate(391.6,280.70) scale(1,1.05)" font-size="8.35" font-weight="normal" font-style="normal" text-anchor="start" fill="#111"  stroke="#111" stroke-width="0.18">JAK-STAT signaling</text>
<rect x="119.00" y="272.05" width="9.80" height="11.60" fill="#e2e2e2" />
<rect x="129.72" y="272.05" width="9.80" height="11.60" fill="#e2e2e2" />
<rect x="140.44" y="272.05" width="9.80" height="11.60" fill="#e2e2e2" />
<rect x="151.16" y="272.05" width="9.80" height="11.60" fill="#e2e2e2" />
<rect x="161.88" y="272.05" width="9.80" height="11.60" fill="#e2e2e2" />
<rect x="172.60" y="272.05" width="9.80" height="11.60" fill="#e2e2e2" />
<rect x="193.80" y="272.05" width="9.80" height="11.60" fill="#e2e2e2" />
<rect x="204.45" y="272.05" width="9.80" height="11.60" fill="#e2e2e2" />
<rect x="218.70" y="272.05" width="9.80" height="11.60" fill="#e2e2e2" />
<rect x="229.34" y="272.05" width="9.80" height="11.60" fill="#e2e2e2" />
<rect x="239.98" y="272.05" width="9.80" height="11.60" fill="#e2e2e2" />
<rect x="250.62" y="272.05" width="9.80" height="11.60" fill="#e2e2e2" />
<rect x="261.26" y="272.05" width="9.80" height="11.60" fill="#e2e2e2" />
<rect x="271.90" y="272.05" width="9.80" height="11.60" fill="#c4c3ca" />
<rect x="282.54" y="272.05" width="9.80" height="11.60" fill="#a8082f" />
<rect x="293.18" y="272.05" width="9.80" height="11.60" fill="#e2e2e2" />
<rect x="303.82" y="272.05" width="9.80" height="11.60" fill="#e2e2e2" />
<rect x="314.46" y="272.05" width="9.80" height="11.60" fill="#e2e2e2" />
<rect x="325.10" y="272.05" width="9.80" height="11.60" fill="#e2e2e2" />
<rect x="335.74" y="272.05" width="9.80" height="11.60" fill="#e2e2e2" />
<rect x="346.38" y="272.05" width="9.80" height="11.60" fill="#e2e2e2" />
<rect x="357.02" y="272.05" width="9.80" height="11.60" fill="#e2e2e2" />
<rect x="367.66" y="272.05" width="9.80" height="11.60" fill="#e2e2e2" />
<rect x="378.30" y="272.05" width="9.80" height="11.60" fill="#e2e2e2" />
<text transform="translate(44.0,293.36) scale(1,1.05)" font-size="8.8" font-weight="normal" font-style="italic" text-anchor="start" fill="#2a2a2a"  stroke="#2a2a2a" stroke-width="0.18">KRAS</text>
<text transform="translate(93.7,293.36) scale(1,1.05)" font-size="8.8" font-weight="normal" font-style="normal" text-anchor="start" fill="#1a1a1a"  stroke="#1a1a1a" stroke-width="0.18">ONC</text>
<text transform="translate(391.6,293.36) scale(1,1.05)" font-size="8.35" font-weight="normal" font-style="normal" text-anchor="start" fill="#111"  stroke="#111" stroke-width="0.18">Ras-MAPK / Ras-PI3K pathways</text>
<rect x="119.00" y="284.71" width="9.80" height="11.60" fill="#e2e2e2" />
<rect x="129.72" y="284.71" width="9.80" height="11.60" fill="#e2e2e2" />
<rect x="140.44" y="284.71" width="9.80" height="11.60" fill="#e2e2e2" />
<rect x="151.16" y="284.71" width="9.80" height="11.60" fill="#e2e2e2" />
<rect x="161.88" y="284.71" width="9.80" height="11.60" fill="#e2e2e2" />
<rect x="172.60" y="284.71" width="9.80" height="11.60" fill="#e2e2e2" />
<rect x="193.80" y="284.71" width="9.80" height="11.60" fill="#a8082f" />
<rect x="204.45" y="284.71" width="9.80" height="11.60" fill="#e2e2e2" />
<rect x="218.70" y="284.71" width="9.80" height="11.60" fill="#e2e2e2" />
<rect x="229.34" y="284.71" width="9.80" height="11.60" fill="#e2e2e2" />
<rect x="239.98" y="284.71" width="9.80" height="11.60" fill="#e2e2e2" />
<rect x="250.62" y="284.71" width="9.80" height="11.60" fill="#e2e2e2" />
<rect x="261.26" y="284.71" width="9.80" height="11.60" fill="#e2e2e2" />
<rect x="271.90" y="284.71" width="9.80" height="11.60" fill="#e2e2e2" />
<rect x="282.54" y="284.71" width="9.80" height="11.60" fill="#e2e2e2" />
<rect x="293.18" y="284.71" width="9.80" height="11.60" fill="#e2e2e2" />
<rect x="303.82" y="284.71" width="9.80" height="11.60" fill="#e2e2e2" />
<rect x="314.46" y="284.71" width="9.80" height="11.60" fill="#e2e2e2" />
<rect x="325.10" y="284.71" width="9.80" height="11.60" fill="#e2e2e2" />
<rect x="335.74" y="284.71" width="9.80" height="11.60" fill="#e2e2e2" />
<rect x="346.38" y="284.71" width="9.80" height="11.60" fill="#e2e2e2" />
<rect x="357.02" y="284.71" width="9.80" height="11.60" fill="#e2e2e2" />
<rect x="367.66" y="284.71" width="9.80" height="11.60" fill="#e2e2e2" />
<rect x="378.30" y="284.71" width="9.80" height="11.60" fill="#e2e2e2" />
<text transform="translate(44.0,306.02) scale(1,1.05)" font-size="8.8" font-weight="normal" font-style="italic" text-anchor="start" fill="#2a2a2a"  stroke="#2a2a2a" stroke-width="0.18">MYC</text>
<text transform="translate(93.7,306.02) scale(1,1.05)" font-size="8.8" font-weight="normal" font-style="normal" text-anchor="start" fill="#1a1a1a"  stroke="#1a1a1a" stroke-width="0.18">ONC</text>
<text transform="translate(391.6,306.02) scale(1,1.05)" font-size="8.35" font-weight="normal" font-style="normal" text-anchor="start" fill="#111"  stroke="#111" stroke-width="0.18">Transcription factor</text>
<rect x="119.00" y="297.37" width="9.80" height="11.60" fill="#e2e2e2" />
<rect x="129.72" y="297.37" width="9.80" height="11.60" fill="#e2e2e2" />
<rect x="140.44" y="297.37" width="9.80" height="11.60" fill="#e2e2e2" />
<rect x="151.16" y="297.37" width="9.80" height="11.60" fill="#e2e2e2" />
<rect x="161.88" y="297.37" width="9.80" height="11.60" fill="#e2e2e2" />
<rect x="172.60" y="297.37" width="9.80" height="11.60" fill="#e2e2e2" />
<rect x="193.80" y="297.37" width="9.80" height="11.60" fill="#e2e2e2" />
<rect x="204.45" y="297.37" width="9.80" height="11.60" fill="#e2e2e2" />
<rect x="218.70" y="297.37" width="9.80" height="11.60" fill="#e2e2e2" />
<rect x="229.34" y="297.37" width="9.80" height="11.60" fill="#e2e2e2" />
<rect x="239.98" y="297.37" width="9.80" height="11.60" fill="#a8082f" />
<rect x="250.62" y="297.37" width="9.80" height="11.60" fill="#a8082f" />
<rect x="261.26" y="297.37" width="9.80" height="11.60" fill="#e2e2e2" />
<rect x="271.90" y="297.37" width="9.80" height="11.60" fill="#e2e2e2" />
<rect x="282.54" y="297.37" width="9.80" height="11.60" fill="#a8082f" />
<rect x="293.18" y="297.37" width="9.80" height="11.60" fill="#e2e2e2" />
<rect x="303.82" y="297.37" width="9.80" height="11.60" fill="#e2e2e2" />
<rect x="314.46" y="297.37" width="9.80" height="11.60" fill="#e2e2e2" />
<rect x="325.10" y="297.37" width="9.80" height="11.60" fill="#e2e2e2" />
<rect x="335.74" y="297.37" width="9.80" height="11.60" fill="#e2e2e2" />
<rect x="346.38" y="297.37" width="9.80" height="11.60" fill="#e2e2e2" />
<rect x="357.02" y="297.37" width="9.80" height="11.60" fill="#e2e2e2" />
<rect x="367.66" y="297.37" width="9.80" height="11.60" fill="#e2e2e2" />
<rect x="378.30" y="297.37" width="9.80" height="11.60" fill="#e2e2e2" />
<text transform="translate(44.0,318.68) scale(1,1.05)" font-size="8.8" font-weight="normal" font-style="italic" text-anchor="start" fill="#2a2a2a"  stroke="#2a2a2a" stroke-width="0.18">FOXO1</text>
<text transform="translate(93.7,318.68) scale(1,1.05)" font-size="8.8" font-weight="normal" font-style="normal" text-anchor="start" fill="#1a1a1a"  stroke="#1a1a1a" stroke-width="0.18">ONC</text>
<text transform="translate(391.6,318.68) scale(1,1.05)" font-size="8.35" font-weight="normal" font-style="normal" text-anchor="start" fill="#111"  stroke="#111" stroke-width="0.18">Transcription factor</text>
<rect x="119.00" y="310.03" width="9.80" height="11.60" fill="#e2e2e2" />
<rect x="129.72" y="310.03" width="9.80" height="11.60" fill="#e2e2e2" />
<rect x="140.44" y="310.03" width="9.80" height="11.60" fill="#e2e2e2" />
<rect x="151.16" y="310.03" width="9.80" height="11.60" fill="#e2e2e2" />
<rect x="161.88" y="310.03" width="9.80" height="11.60" fill="#e2e2e2" />
<rect x="172.60" y="310.03" width="9.80" height="11.60" fill="#e2e2e2" />
<rect x="193.80" y="310.03" width="9.80" height="11.60" fill="#e2e2e2" />
<rect x="204.45" y="310.03" width="9.80" height="11.60" fill="#e2e2e2" />
<rect x="218.70" y="310.03" width="9.80" height="11.60" fill="#e2e2e2" />
<rect x="229.34" y="310.03" width="9.80" height="11.60" fill="#e2e2e2" />
<rect x="239.98" y="310.03" width="9.80" height="11.60" fill="#e2e2e2" />
<rect x="250.62" y="310.03" width="9.80" height="11.60" fill="#e2e2e2" />
<rect x="261.26" y="310.03" width="9.80" height="11.60" fill="#e2e2e2" />
<rect x="271.90" y="310.03" width="9.80" height="11.60" fill="#e2e2e2" />
<rect x="282.54" y="310.03" width="9.80" height="11.60" fill="#e2e2e2" />
<rect x="293.18" y="310.03" width="9.80" height="11.60" fill="#e2e2e2" />
<rect x="303.82" y="310.03" width="9.80" height="11.60" fill="#e2e2e2" />
<rect x="314.46" y="310.03" width="9.80" height="11.60" fill="#e2e2e2" />
<rect x="325.10" y="310.03" width="9.80" height="11.60" fill="#e2e2e2" />
<rect x="335.74" y="310.03" width="9.80" height="11.60" fill="#e2e2e2" />
<rect x="346.38" y="310.03" width="9.80" height="11.60" fill="#e2e2e2" />
<rect x="357.02" y="310.03" width="9.80" height="11.60" fill="#e2e2e2" />
<rect x="367.66" y="310.03" width="9.80" height="11.60" fill="#e2e2e2" />
<rect x="378.30" y="310.03" width="9.80" height="11.60" fill="#e2e2e2" />
<text transform="translate(44.0,331.34) scale(1,1.05)" font-size="8.8" font-weight="normal" font-style="italic" text-anchor="start" fill="#2a2a2a"  stroke="#2a2a2a" stroke-width="0.18">FAS</text>
<text transform="translate(93.7,331.34) scale(1,1.05)" font-size="8.8" font-weight="normal" font-style="normal" text-anchor="start" fill="#1a1a1a"  stroke="#1a1a1a" stroke-width="0.18">TSG</text>
<text transform="translate(391.6,331.34) scale(1,1.05)" font-size="8.35" font-weight="normal" font-style="normal" text-anchor="start" fill="#111"  stroke="#111" stroke-width="0.18">Apoptosis</text>
<rect x="119.00" y="322.69" width="9.80" height="11.60" fill="#e2e2e2" />
<rect x="129.72" y="322.69" width="9.80" height="11.60" fill="#e2e2e2" />
<rect x="140.44" y="322.69" width="9.80" height="11.60" fill="#e2e2e2" />
<rect x="151.16" y="322.69" width="9.80" height="11.60" fill="#e2e2e2" />
<rect x="161.88" y="322.69" width="9.80" height="11.60" fill="#e2e2e2" />
<rect x="172.60" y="322.69" width="9.80" height="11.60" fill="#e2e2e2" />
<rect x="194.15" y="323.04" width="9.10" height="10.90" fill="#4f1d65" stroke="#3e1050" stroke-width="0.7"/>
<rect x="204.45" y="322.69" width="9.80" height="11.60" fill="#e2e2e2" />
<rect x="218.70" y="322.69" width="9.80" height="11.60" fill="#e2e2e2" />
<rect x="229.34" y="322.69" width="9.80" height="11.60" fill="#e2e2e2" />
<rect x="239.98" y="322.69" width="9.80" height="11.60" fill="#e2e2e2" />
<rect x="250.62" y="322.69" width="9.80" height="11.60" fill="#e2e2e2" />
<rect x="261.26" y="322.69" width="9.80" height="11.60" fill="#e2e2e2" />
<rect x="271.90" y="322.69" width="9.80" height="11.60" fill="#e2e2e2" />
<rect x="282.54" y="322.69" width="9.80" height="11.60" fill="#e2e2e2" />
<rect x="293.18" y="322.69" width="9.80" height="11.60" fill="#e2e2e2" />
<rect x="304.17" y="323.04" width="9.10" height="10.90" fill="#4f1d65" stroke="#3e1050" stroke-width="0.7"/>
<rect x="314.46" y="322.69" width="9.80" height="11.60" fill="#e2e2e2" />
<rect x="325.10" y="322.69" width="9.80" height="11.60" fill="#e2e2e2" />
<rect x="335.74" y="322.69" width="9.80" height="11.60" fill="#e2e2e2" />
<rect x="346.38" y="322.69" width="9.80" height="11.60" fill="#e2e2e2" />
<rect x="357.02" y="322.69" width="9.80" height="11.60" fill="#e2e2e2" />
<rect x="367.66" y="322.69" width="9.80" height="11.60" fill="#e2e2e2" />
<rect x="378.30" y="322.69" width="9.80" height="11.60" fill="#e2e2e2" />
<text transform="translate(44.0,344.00) scale(1,1.05)" font-size="8.8" font-weight="normal" font-style="italic" text-anchor="start" fill="#2a2a2a"  stroke="#2a2a2a" stroke-width="0.18">TNFRSF14</text>
<text transform="translate(93.7,344.00) scale(1,1.05)" font-size="8.8" font-weight="normal" font-style="normal" text-anchor="start" fill="#1a1a1a"  stroke="#1a1a1a" stroke-width="0.18">TSG</text>
<text transform="translate(391.6,344.00) scale(1,1.05)" font-size="8.35" font-weight="normal" font-style="normal" text-anchor="start" fill="#111"  stroke="#111" stroke-width="0.18">Immune modulation</text>
<rect x="119.35" y="335.70" width="9.10" height="10.90" fill="#4f1d65" stroke="#3e1050" stroke-width="0.7"/>
<rect x="129.72" y="335.35" width="9.80" height="11.60" fill="#e2e2e2" />
<rect x="140.44" y="335.35" width="9.80" height="11.60" fill="#e2e2e2" />
<rect x="151.16" y="335.35" width="9.80" height="11.60" fill="#e2e2e2" />
<rect x="161.88" y="335.35" width="9.80" height="11.60" fill="#e2e2e2" />
<rect x="172.60" y="335.35" width="9.80" height="11.60" fill="#c4c3ca" />
<rect x="194.15" y="335.70" width="9.10" height="10.90" fill="#4f1d65" stroke="#3e1050" stroke-width="0.7"/>
<rect x="204.45" y="335.35" width="9.80" height="11.60" fill="#e2e2e2" />
<rect x="219.05" y="335.70" width="9.10" height="10.90" fill="#4f1d65" stroke="#3e1050" stroke-width="0.7"/>
<rect x="229.34" y="335.35" width="9.80" height="11.60" fill="#e2e2e2" />
<rect x="239.98" y="335.35" width="9.80" height="11.60" fill="#e2e2e2" />
<rect x="250.62" y="335.35" width="9.80" height="11.60" fill="#e2e2e2" />
<rect x="261.26" y="335.35" width="9.80" height="11.60" fill="#e2e2e2" />
<rect x="272.25" y="335.70" width="9.10" height="10.90" fill="#4f1d65" stroke="#3e1050" stroke-width="0.7"/>
<rect x="282.89" y="335.70" width="9.10" height="10.90" fill="#4f1d65" stroke="#3e1050" stroke-width="0.7"/>
<rect x="293.53" y="335.70" width="9.10" height="10.90" fill="#4f1d65" stroke="#3e1050" stroke-width="0.7"/>
<rect x="303.82" y="335.35" width="9.80" height="11.60" fill="#e2e2e2" />
<rect x="314.46" y="335.35" width="9.80" height="11.60" fill="#e2e2e2" />
<rect x="325.10" y="335.35" width="9.80" height="11.60" fill="#c4c3ca" />
<rect x="335.74" y="335.35" width="9.80" height="11.60" fill="#e2e2e2" />
<rect x="346.38" y="335.35" width="9.80" height="11.60" fill="#e2e2e2" />
<rect x="357.02" y="335.35" width="9.80" height="11.60" fill="#e2e2e2" />
<rect x="367.66" y="335.35" width="9.80" height="11.60" fill="#e2e2e2" />
<rect x="378.30" y="335.35" width="9.80" height="11.60" fill="#e2e2e2" />
<text transform="translate(44.0,356.66) scale(1,1.05)" font-size="8.8" font-weight="normal" font-style="italic" text-anchor="start" fill="#2a2a2a"  stroke="#2a2a2a" stroke-width="0.18">B2M</text>
<text transform="translate(93.7,356.66) scale(1,1.05)" font-size="8.8" font-weight="normal" font-style="normal" text-anchor="start" fill="#1a1a1a"  stroke="#1a1a1a" stroke-width="0.18">TSG</text>
<text transform="translate(391.6,356.66) scale(1,1.05)" font-size="8.35" font-weight="normal" font-style="normal" text-anchor="start" fill="#111"  stroke="#111" stroke-width="0.18">Immune modulation</text>
<rect x="119.00" y="348.01" width="9.80" height="11.60" fill="#e2e2e2" />
<rect x="129.72" y="348.01" width="9.80" height="11.60" fill="#c4c3ca" />
<rect x="140.44" y="348.01" width="9.80" height="11.60" fill="#e2e2e2" />
<rect x="151.16" y="348.01" width="9.80" height="11.60" fill="#e2e2e2" />
<rect x="161.88" y="348.01" width="9.80" height="11.60" fill="#e2e2e2" />
<rect x="172.60" y="348.01" width="9.80" height="11.60" fill="#e2e2e2" />
<rect x="193.80" y="348.01" width="9.80" height="11.60" fill="#e2e2e2" />
<rect x="204.45" y="348.01" width="9.80" height="11.60" fill="#e2e2e2" />
<rect x="218.70" y="348.01" width="9.80" height="11.60" fill="#e2e2e2" />
<rect x="229.34" y="348.01" width="9.80" height="11.60" fill="#e2e2e2" />
<rect x="239.98" y="348.01" width="9.80" height="11.60" fill="#e2e2e2" />
<rect x="250.97" y="348.36" width="9.10" height="10.90" fill="#4f1d65" stroke="#3e1050" stroke-width="0.7"/>
<rect x="261.26" y="348.01" width="9.80" height="11.60" fill="#e2e2e2" />
<rect x="271.90" y="348.01" width="9.80" height="11.60" fill="#e2e2e2" />
<rect x="282.54" y="348.01" width="9.80" height="11.60" fill="#c4c3ca" />
<rect x="293.18" y="348.01" width="9.80" height="11.60" fill="#e2e2e2" />
<rect x="303.82" y="348.01" width="9.80" height="11.60" fill="#e2e2e2" />
<rect x="314.46" y="348.01" width="9.80" height="11.60" fill="#e2e2e2" />
<rect x="325.10" y="348.01" width="9.80" height="11.60" fill="#e2e2e2" />
<rect x="335.74" y="348.01" width="9.80" height="11.60" fill="#e2e2e2" />
<rect x="346.38" y="348.01" width="9.80" height="11.60" fill="#e2e2e2" />
<rect x="357.02" y="348.01" width="9.80" height="11.60" fill="#e2e2e2" />
<rect x="367.66" y="348.01" width="9.80" height="11.60" fill="#e2e2e2" />
<rect x="378.30" y="348.01" width="9.80" height="11.60" fill="#e2e2e2" />
<text transform="translate(44.0,369.32) scale(1,1.05)" font-size="8.8" font-weight="normal" font-style="italic" text-anchor="start" fill="#2a2a2a"  stroke="#2a2a2a" stroke-width="0.18">IRF8</text>
<text transform="translate(93.7,369.32) scale(1,1.05)" font-size="8.8" font-weight="normal" font-style="normal" text-anchor="start" fill="#1a1a1a"  stroke="#1a1a1a" stroke-width="0.18">TSG</text>
<text transform="translate(391.6,369.32) scale(1,1.05)" font-size="8.35" font-weight="normal" font-style="normal" text-anchor="start" fill="#111"  stroke="#111" stroke-width="0.18">B cell development</text>
<rect x="119.00" y="360.67" width="9.80" height="11.60" fill="#e2e2e2" />
<rect x="129.72" y="360.67" width="9.80" height="11.60" fill="#e2e2e2" />
<rect x="140.44" y="360.67" width="9.80" height="11.60" fill="#c4c3ca" />
<rect x="151.16" y="360.67" width="9.80" height="11.60" fill="#e2e2e2" />
<rect x="161.88" y="360.67" width="9.80" height="11.60" fill="#e2e2e2" />
<rect x="172.60" y="360.67" width="9.80" height="11.60" fill="#e2e2e2" />
<rect x="193.80" y="360.67" width="9.80" height="11.60" fill="#e2e2e2" />
<rect x="204.45" y="360.67" width="9.80" height="11.60" fill="#e2e2e2" />
<rect x="218.70" y="360.67" width="9.80" height="11.60" fill="#e2e2e2" />
<rect x="229.34" y="360.67" width="9.80" height="11.60" fill="#e2e2e2" />
<rect x="239.98" y="360.67" width="9.80" height="11.60" fill="#c4c3ca" />
<rect x="250.62" y="360.67" width="9.80" height="11.60" fill="#e2e2e2" />
<rect x="261.26" y="360.67" width="9.80" height="11.60" fill="#e2e2e2" />
<rect x="271.90" y="360.67" width="9.80" height="11.60" fill="#c4c3ca" />
<rect x="282.54" y="360.67" width="9.80" height="11.60" fill="#e2e2e2" />
<rect x="293.18" y="360.67" width="9.80" height="11.60" fill="#e2e2e2" />
<rect x="304.17" y="361.02" width="9.10" height="10.90" fill="#4f1d65" stroke="#3e1050" stroke-width="0.7"/>
<rect x="314.46" y="360.67" width="9.80" height="11.60" fill="#e2e2e2" />
<rect x="325.10" y="360.67" width="9.80" height="11.60" fill="#e2e2e2" />
<rect x="335.74" y="360.67" width="9.80" height="11.60" fill="#e2e2e2" />
<rect x="346.38" y="360.67" width="9.80" height="11.60" fill="#e2e2e2" />
<rect x="357.02" y="360.67" width="9.80" height="11.60" fill="#e2e2e2" />
<rect x="367.66" y="360.67" width="9.80" height="11.60" fill="#e2e2e2" />
<rect x="378.30" y="360.67" width="9.80" height="11.60" fill="#e2e2e2" />
<text transform="translate(44.0,381.98) scale(1,1.05)" font-size="8.8" font-weight="normal" font-style="italic" text-anchor="start" fill="#2a2a2a"  stroke="#2a2a2a" stroke-width="0.18">CARD11</text>
<text transform="translate(93.7,381.98) scale(1,1.05)" font-size="8.8" font-weight="normal" font-style="normal" text-anchor="start" fill="#1a1a1a"  stroke="#1a1a1a" stroke-width="0.18">ONC</text>
<text transform="translate(391.6,381.98) scale(1,1.05)" font-size="8.35" font-weight="normal" font-style="normal" text-anchor="start" fill="#111"  stroke="#111" stroke-width="0.18">NF-kB pathway</text>
<rect x="119.00" y="373.33" width="9.80" height="11.60" fill="#e2e2e2" />
<rect x="129.72" y="373.33" width="9.80" height="11.60" fill="#e2e2e2" />
<rect x="140.44" y="373.33" width="9.80" height="11.60" fill="#e2e2e2" />
<rect x="151.16" y="373.33" width="9.80" height="11.60" fill="#e2e2e2" />
<rect x="161.88" y="373.33" width="9.80" height="11.60" fill="#e2e2e2" />
<rect x="172.60" y="373.33" width="9.80" height="11.60" fill="#e2e2e2" />
<rect x="193.80" y="373.33" width="9.80" height="11.60" fill="#e2e2e2" />
<rect x="204.45" y="373.33" width="9.80" height="11.60" fill="#e2e2e2" />
<rect x="218.70" y="373.33" width="9.80" height="11.60" fill="#e2e2e2" />
<rect x="229.34" y="373.33" width="9.80" height="11.60" fill="#e2e2e2" />
<rect x="239.98" y="373.33" width="9.80" height="11.60" fill="#e2e2e2" />
<rect x="250.62" y="373.33" width="9.80" height="11.60" fill="#e2e2e2" />
<rect x="261.26" y="373.33" width="9.80" height="11.60" fill="#a8082f" />
<rect x="271.90" y="373.33" width="9.80" height="11.60" fill="#e2e2e2" />
<rect x="282.54" y="373.33" width="9.80" height="11.60" fill="#e2e2e2" />
<rect x="293.18" y="373.33" width="9.80" height="11.60" fill="#e2e2e2" />
<rect x="303.82" y="373.33" width="9.80" height="11.60" fill="#e2e2e2" />
<rect x="314.46" y="373.33" width="9.80" height="11.60" fill="#e2e2e2" />
<rect x="325.10" y="373.33" width="9.80" height="11.60" fill="#e2e2e2" />
<rect x="335.74" y="373.33" width="9.80" height="11.60" fill="#e2e2e2" />
<rect x="346.38" y="373.33" width="9.80" height="11.60" fill="#e2e2e2" />
<rect x="357.02" y="373.33" width="9.80" height="11.60" fill="#e2e2e2" />
<rect x="367.66" y="373.33" width="9.80" height="11.60" fill="#e2e2e2" />
<rect x="378.30" y="373.33" width="9.80" height="11.60" fill="#e2e2e2" />
<text transform="translate(44.0,394.64) scale(1,1.05)" font-size="8.8" font-weight="normal" font-style="italic" text-anchor="start" fill="#2a2a2a"  stroke="#2a2a2a" stroke-width="0.18">RHOA</text>
<text transform="translate(93.7,394.64) scale(1,1.05)" font-size="8.8" font-weight="normal" font-style="normal" text-anchor="start" fill="#1a1a1a"  stroke="#1a1a1a" stroke-width="0.18">ONC</text>
<text transform="translate(391.6,394.64) scale(1,1.05)" font-size="8.35" font-weight="normal" font-style="normal" text-anchor="start" fill="#111"  stroke="#111" stroke-width="0.18">Cell cycle / cytoskeleton</text>
<rect x="119.00" y="385.99" width="9.80" height="11.60" fill="#e2e2e2" />
<rect x="129.72" y="385.99" width="9.80" height="11.60" fill="#e2e2e2" />
<rect x="140.44" y="385.99" width="9.80" height="11.60" fill="#e2e2e2" />
<rect x="151.16" y="385.99" width="9.80" height="11.60" fill="#e2e2e2" />
<rect x="161.88" y="385.99" width="9.80" height="11.60" fill="#e2e2e2" />
<rect x="172.60" y="385.99" width="9.80" height="11.60" fill="#e2e2e2" />
<rect x="193.80" y="385.99" width="9.80" height="11.60" fill="#e2e2e2" />
<rect x="204.45" y="385.99" width="9.80" height="11.60" fill="#e2e2e2" />
<rect x="218.70" y="385.99" width="9.80" height="11.60" fill="#e2e2e2" />
<rect x="229.34" y="385.99" width="9.80" height="11.60" fill="#e2e2e2" />
<rect x="239.98" y="385.99" width="9.80" height="11.60" fill="#e2e2e2" />
<rect x="250.62" y="385.99" width="9.80" height="11.60" fill="#a8082f" />
<rect x="261.26" y="385.99" width="9.80" height="11.60" fill="#e2e2e2" />
<rect x="271.90" y="385.99" width="9.80" height="11.60" fill="#c4c3ca" />
<rect x="282.54" y="385.99" width="9.80" height="11.60" fill="#e2e2e2" />
<rect x="293.18" y="385.99" width="9.80" height="11.60" fill="#e2e2e2" />
<rect x="303.82" y="385.99" width="9.80" height="11.60" fill="#e2e2e2" />
<rect x="314.46" y="385.99" width="9.80" height="11.60" fill="#e2e2e2" />
<rect x="325.10" y="385.99" width="9.80" height="11.60" fill="#e2e2e2" />
<rect x="335.74" y="385.99" width="9.80" height="11.60" fill="#e2e2e2" />
<rect x="346.38" y="385.99" width="9.80" height="11.60" fill="#e2e2e2" />
<rect x="357.02" y="385.99" width="9.80" height="11.60" fill="#e2e2e2" />
<rect x="367.66" y="385.99" width="9.80" height="11.60" fill="#e2e2e2" />
<rect x="378.30" y="385.99" width="9.80" height="11.60" fill="#e2e2e2" />
<text transform="translate(43.6,411.9) scale(1,1.05)" font-size="8.7" font-weight="bold" font-style="normal" text-anchor="start" fill="#000"  stroke="#000" stroke-width="0.1"><tspan font-style="italic">BCL2</tspan> t(14;18)</text>
<text transform="translate(43.6,427.3) scale(1,1.05)" font-size="8.7" font-weight="bold" font-style="normal" text-anchor="start" fill="#000"  stroke="#000" stroke-width="0.1">Systemic</text>
<text transform="translate(43.6,437.7) scale(1,1.05)" font-size="8.7" font-weight="bold" font-style="normal" text-anchor="start" fill="#000"  stroke="#000" stroke-width="0.1">Involvement</text>
<path d="M121.50,409.00 H126.30 M123.90,406.60 V411.40" stroke="#111" stroke-width="1.4"/>
<path d="M121.50,429.80 H126.30 M123.90,427.40 V432.20" stroke="#111" stroke-width="1.4"/>
<path d="M132.22,409.00 H137.02 M134.62,406.60 V411.40" stroke="#111" stroke-width="1.4"/>
<path d="M132.22,429.80 H137.02 M134.62,427.40 V432.20" stroke="#111" stroke-width="1.4"/>
<text transform="translate(145.34,406.7) scale(1,1.05)" font-size="8.6" font-weight="bold" font-style="normal" text-anchor="middle" fill="#111" stroke="#111" stroke-width="0.3">n.</text>
<text transform="translate(145.34,415.5) scale(1,1.05)" font-size="8.6" font-weight="bold" font-style="normal" text-anchor="middle" fill="#111" stroke="#111" stroke-width="0.3">a.</text>
<path d="M142.94,429.80 H147.74 M145.34,427.40 V432.20" stroke="#111" stroke-width="1.4"/>
<path d="M153.66,409.00 H158.46 M156.06,406.60 V411.40" stroke="#111" stroke-width="1.4"/>
<path d="M153.66,429.80 H158.46 M156.06,427.40 V432.20" stroke="#111" stroke-width="1.4"/>
<path d="M164.38,409.00 H169.18 M166.78,406.60 V411.40" stroke="#111" stroke-width="1.4"/>
<path d="M164.38,429.80 H169.18 M166.78,427.40 V432.20" stroke="#111" stroke-width="1.4"/>
<path d="M175.10,409.00 H179.90 M177.50,406.60 V411.40" stroke="#111" stroke-width="1.4"/>
<path d="M175.10,429.80 H179.90 M177.50,427.40 V432.20" stroke="#111" stroke-width="1.4"/>
<path d="M196.30,409.00 H201.10 M198.70,406.60 V411.40" stroke="#111" stroke-width="1.4"/>
<path d="M196.30,429.80 H201.10 M198.70,427.40 V432.20" stroke="#111" stroke-width="1.4"/>
<path d="M206.95,409.00 H211.75 M209.35,406.60 V411.40" stroke="#111" stroke-width="1.4"/>
<path d="M206.95,429.80 H211.75 M209.35,427.40 V432.20" stroke="#111" stroke-width="1.4"/>
<path d="M221.20,409.00 H226.00 M223.60,406.60 V411.40" stroke="#111" stroke-width="1.4"/>
<rect x="222.60" y="429.10" width="2.0" height="1.4" fill="#111"/>
<path d="M231.84,409.00 H236.64 M234.24,406.60 V411.40" stroke="#111" stroke-width="1.4"/>
<rect x="233.24" y="429.10" width="2.0" height="1.4" fill="#111"/>
<rect x="243.88" y="408.30" width="2.0" height="1.4" fill="#111"/>
<rect x="243.88" y="429.10" width="2.0" height="1.4" fill="#111"/>
<rect x="254.52" y="408.30" width="2.0" height="1.4" fill="#111"/>
<rect x="254.52" y="429.10" width="2.0" height="1.4" fill="#111"/>
<rect x="265.16" y="408.30" width="2.0" height="1.4" fill="#111"/>
<rect x="265.16" y="429.10" width="2.0" height="1.4" fill="#111"/>
<rect x="275.80" y="408.30" width="2.0" height="1.4" fill="#111"/>
<rect x="275.80" y="429.10" width="2.0" height="1.4" fill="#111"/>
<rect x="286.44" y="408.30" width="2.0" height="1.4" fill="#111"/>
<rect x="286.44" y="429.10" width="2.0" height="1.4" fill="#111"/>
<rect x="297.08" y="408.30" width="2.0" height="1.4" fill="#111"/>
<rect x="297.08" y="429.10" width="2.0" height="1.4" fill="#111"/>
<rect x="307.72" y="408.30" width="2.0" height="1.4" fill="#111"/>
<rect x="307.72" y="429.10" width="2.0" height="1.4" fill="#111"/>
<rect x="318.36" y="408.30" width="2.0" height="1.4" fill="#111"/>
<rect x="318.36" y="429.10" width="2.0" height="1.4" fill="#111"/>
<rect x="329.00" y="408.30" width="2.0" height="1.4" fill="#111"/>
<rect x="329.00" y="429.10" width="2.0" height="1.4" fill="#111"/>
<rect x="339.64" y="408.30" width="2.0" height="1.4" fill="#111"/>
<rect x="339.64" y="429.10" width="2.0" height="1.4" fill="#111"/>
<rect x="350.28" y="408.30" width="2.0" height="1.4" fill="#111"/>
<rect x="350.28" y="429.10" width="2.0" height="1.4" fill="#111"/>
<rect x="360.92" y="408.30" width="2.0" height="1.4" fill="#111"/>
<rect x="360.92" y="429.10" width="2.0" height="1.4" fill="#111"/>
<rect x="371.56" y="408.30" width="2.0" height="1.4" fill="#111"/>
<rect x="371.56" y="429.10" width="2.0" height="1.4" fill="#111"/>
<rect x="382.20" y="408.30" width="2.0" height="1.4" fill="#111"/>
<rect x="382.20" y="429.10" width="2.0" height="1.4" fill="#111"/>
<line x1="118.7" y1="442.7" x2="182.7" y2="442.7" stroke="#333" stroke-width="1.3"/>
<line x1="193.6" y1="442.7" x2="387.9" y2="442.7" stroke="#333" stroke-width="1.3"/>
<text transform="translate(150.8,453.5) scale(1,1.05)" font-size="8.4" font-weight="bold" font-style="normal" text-anchor="middle" fill="#000"  stroke="#000" stroke-width="0.1">SCFL</text>
<text transform="translate(290.6,453.5) scale(1,1.05)" font-size="8.4" font-weight="bold" font-style="normal" text-anchor="middle" fill="#000"  stroke="#000" stroke-width="0.1">PCFCL</text>
<text transform="translate(279.6,481.0) scale(1,1.05)" font-size="9.6" font-weight="normal" font-style="normal" text-anchor="middle" fill="#111"  stroke="#111" stroke-width="0.18">Similarity Index</text>
<line x1="62.3" y1="488.0" x2="62.3" y2="541.3" stroke="#1a1a1a" stroke-width="1.1"/>
<line x1="59.2" y1="490.4" x2="62.3" y2="490.4" stroke="#1a1a1a" stroke-width="1.0"/>
<text transform="translate(55.1,493.4) scale(1.03,1.05)" font-size="8.6" font-weight="normal" text-anchor="end" fill="#111" stroke="#111" stroke-width="0.18">1.0</text>
<line x1="59.2" y1="515.6" x2="62.3" y2="515.6" stroke="#1a1a1a" stroke-width="1.0"/>
<text transform="translate(55.1,518.6) scale(1.03,1.05)" font-size="8.6" font-weight="normal" text-anchor="end" fill="#111" stroke="#111" stroke-width="0.18">0.5</text>
<line x1="59.2" y1="540.8" x2="62.3" y2="540.8" stroke="#1a1a1a" stroke-width="1.0"/>
<text transform="translate(55.1,543.8) scale(1.03,1.05)" font-size="8.6" font-weight="normal" text-anchor="end" fill="#111" stroke="#111" stroke-width="0.18">0.0</text>
<rect x="76.00" y="490.70" width="59.90" height="49.90" fill="#532463" stroke="#380a49" stroke-width="0.6"/>
<rect x="163.50" y="495.50" width="59.90" height="45.10" fill="#532463" stroke="#380a49" stroke-width="0.6"/>
<rect x="251.00" y="506.10" width="59.90" height="34.50" fill="#532463" stroke="#380a49" stroke-width="0.6"/>
<rect x="338.50" y="520.70" width="59.90" height="19.90" fill="#532463" stroke="#380a49" stroke-width="0.6"/>
<rect x="425.90" y="524.50" width="59.90" height="16.10" fill="#532463" stroke="#380a49" stroke-width="0.6"/>
<line x1="59.2" y1="541.1" x2="499.2" y2="541.1" stroke="#222" stroke-width="1.2"/>
<text transform="translate(105.95,551.9) scale(1,1.05)" font-size="8.2" font-weight="normal" font-style="normal" text-anchor="middle" fill="#111"  stroke="#111" stroke-width="0.18">Secondary</text>
<text transform="translate(105.95,561.9) scale(1,1.05)" font-size="8.2" font-weight="normal" font-style="normal" text-anchor="middle" fill="#111"  stroke="#111" stroke-width="0.18">Cutaneous FL</text>
<text transform="translate(193.45,551.9) scale(1,1.05)" font-size="8.2" font-weight="normal" font-style="normal" text-anchor="middle" fill="#111"  stroke="#111" stroke-width="0.18">Usual Systemic</text>
<text transform="translate(193.45,561.9) scale(1,1.05)" font-size="8.2" font-weight="normal" font-style="normal" text-anchor="middle" fill="#111"  stroke="#111" stroke-width="0.18">FL</text>
<text transform="translate(280.95,551.9) scale(1,1.05)" font-size="8.2" font-weight="normal" font-style="normal" text-anchor="middle" fill="#111"  stroke="#111" stroke-width="0.18">Diffuse FL</text>
<text transform="translate(368.45,551.9) scale(1,1.05)" font-size="8.2" font-weight="normal" font-style="normal" text-anchor="middle" fill="#111"  stroke="#111" stroke-width="0.18">Pedi Type</text>
<text transform="translate(368.45,561.9) scale(1,1.05)" font-size="8.2" font-weight="normal" font-style="normal" text-anchor="middle" fill="#111"  stroke="#111" stroke-width="0.18">Nodal FL</text>
<text transform="translate(455.85,551.9) scale(1,1.05)" font-size="8.2" font-weight="normal" font-style="normal" text-anchor="middle" fill="#111"  stroke="#111" stroke-width="0.18">PCFCL Skin</text>
<text transform="translate(455.85,561.9) scale(1,1.05)" font-size="8.2" font-weight="normal" font-style="normal" text-anchor="middle" fill="#111"  stroke="#111" stroke-width="0.18">Restricted</text>
<rect x="0.5" y="0.5" width="519" height="571" fill="none" stroke="#000" stroke-width="1.1"/>
</svg>
</body></html>
